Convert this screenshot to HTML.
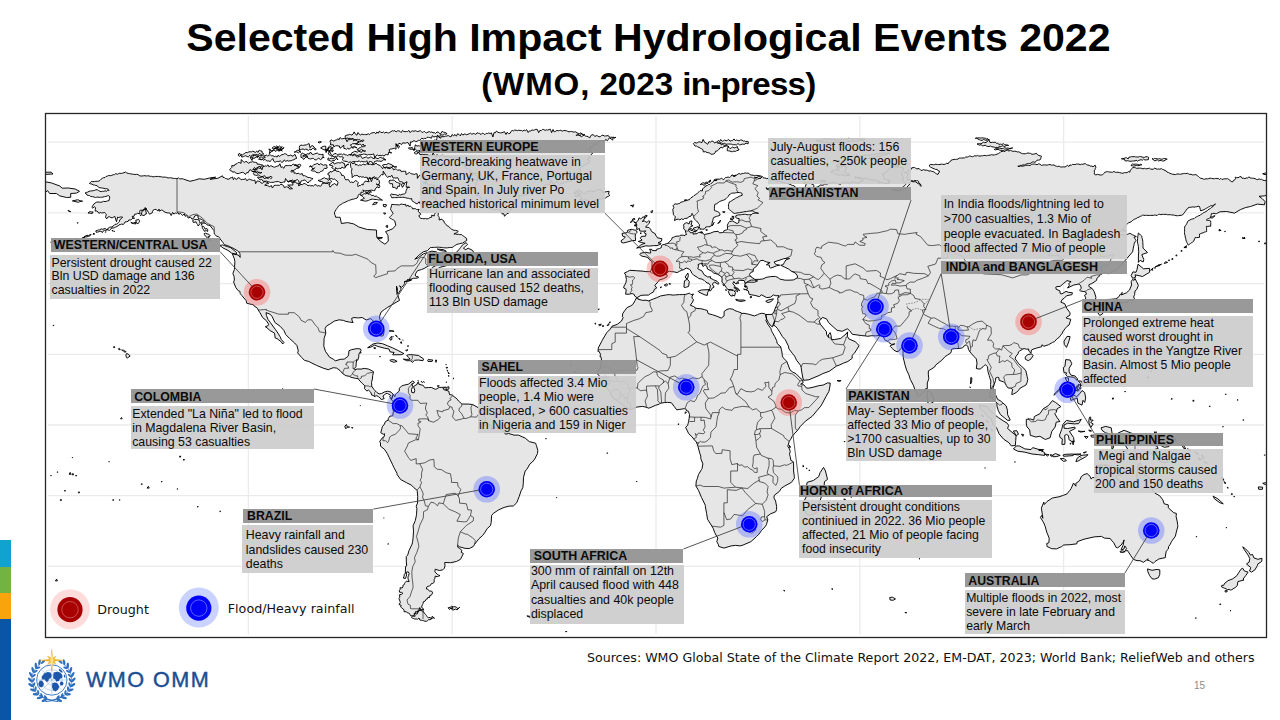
<!DOCTYPE html>
<html lang="en"><head><meta charset="utf-8"><title>Selected High Impact Hydrological Events 2022</title>
<style>
html,body{margin:0;padding:0}
body{width:1280px;height:720px;position:relative;overflow:hidden;background:#fff;font-family:"Liberation Sans",sans-serif}
.t1,.t2{position:absolute;left:0;width:1280px;text-align:center;font-weight:bold;color:#000;white-space:nowrap;transform-origin:50% 50%}
.t1{top:13.5px;font-size:39.4px;line-height:46px;transform:translateX(8.4px) scaleX(1.0425)}
.t2{top:65px;font-size:31.6px;line-height:38px;transform:translateX(8.4px) scaleX(1.048)}
.hd,.bd{position:absolute;box-sizing:border-box;white-space:nowrap;overflow:hidden;color:#0a0a0a}
.hd{background:rgba(148,148,148,.95);font-weight:bold}
.bd{background:rgba(204,204,204,.92)}
.lg{position:absolute;font-family:"DejaVu Sans","Liberation Sans",sans-serif;font-size:12.7px;line-height:14px;color:#111;white-space:nowrap}
.bar{position:absolute;left:0;width:11px}
</style></head><body>
<div class="t1">Selected High Impact Hydrological Events 2022</div>
<div class="t2"><span style="letter-spacing:.8px">(WMO,</span> 2023 <span style="letter-spacing:-.7px">in-press)</span></div>
<svg width="1280" height="720" viewBox="0 0 1280 720" style="position:absolute;left:0;top:0">
<defs><clipPath id="mc"><rect x="45.5" y="113.5" width="1221" height="524"/></clipPath></defs>
<g clip-path="url(#mc)">
<path d="M248.4 116V634.5M452.2 116V634.5M656.0 116V634.5M859.8 116V634.5M1063.6 116V634.5M48 142.2H1264M48 212.9H1264M48 283.6H1264M48 354.3H1264M48 425.0H1264M48 495.7H1264M48 566.4H1264" stroke="#ebebeb" stroke-width="1.3" fill="none"/>
<path d="M85.0 193.1L86.3 192.5L87.7 192.1L89.0 191.4L90.4 191.0L91.8 190.9L93.2 190.7L94.5 190.4L95.8 189.8L97.2 189.7L98.6 190.5L99.9 191.3L101.2 191.6L102.5 191.3L103.8 191.3L105.1 190.8L106.4 191.3L107.6 190.4L109.1 190.3L108.0 189.2L106.8 188.7L105.3 188.8L104.0 188.3L102.6 188.1L101.3 187.9L99.9 187.8L98.3 187.1L97.2 185.7L95.8 185.5L94.6 185.0L93.1 185.0L92.0 184.0L90.6 183.9L89.4 183.4L90.5 182.5L91.4 181.4L92.9 181.7L94.4 181.5L95.9 181.3L97.4 181.3L98.9 181.1L100.1 180.3L101.1 179.2L102.3 178.3L103.6 177.7L105.0 177.6L106.0 176.5L107.4 176.1L108.8 175.5L110.4 175.7L111.8 175.4L113.2 174.7L114.5 174.6L115.8 173.6L117.3 174.3L118.6 173.6L119.9 173.2L121.3 173.5L122.7 173.0L124.0 172.8L125.5 172.0L126.8 173.0L128.1 173.3L129.5 173.7L130.9 173.8L132.3 174.2L133.7 174.3L135.1 174.5L136.6 174.3L138.0 174.5L139.2 175.5L140.7 176.0L142.1 176.0L143.6 175.8L145.0 175.7L146.5 176.0L147.7 175.8L149.0 175.9L150.3 176.4L151.5 176.3L152.9 176.8L154.4 176.7L155.8 176.4L157.2 176.5L158.6 176.4L160.0 176.8L161.4 176.7L162.7 177.2L164.1 177.1L165.5 177.2L166.8 177.4L168.0 178.0L169.4 177.8L170.7 177.7L171.9 178.1L173.2 178.3L174.5 178.5L175.8 178.4L177.0 178.8L178.4 177.8L179.6 178.8L180.9 178.9L182.2 178.7L183.5 179.1L189.9 181.3L194.7 180.2L199.1 178.8L204.2 179.3L211.0 177.7L215.7 177.2L210.0 179.3L217.8 178.3L222.5 175.8L223.0 177.4L224.5 177.6L225.4 178.5L226.8 178.7L228.0 179.3L229.3 179.0L230.2 177.9L231.6 177.6L232.7 177.0L232.9 178.4L233.4 179.7L234.4 177.8L236.1 179.4L237.3 179.0L238.3 177.5L239.9 178.3L241.1 179.8L242.6 179.4L244.0 179.4L245.6 178.6L246.7 180.6L248.4 179.7L249.8 179.1L250.9 179.9L252.2 180.2L253.4 180.5L254.8 180.0L255.6 183.6L257.3 180.9L258.6 181.3L259.9 181.4L261.2 183.1L262.5 183.2L264.0 181.8L265.3 181.6L266.5 182.2L267.8 182.5L268.7 183.6L267.2 183.7L265.9 184.2L264.7 185.2L266.0 185.4L267.3 185.7L268.6 186.1L269.8 186.9L271.2 185.4L272.4 188.0L273.8 185.7L275.2 185.2L276.7 185.4L278.1 185.2L279.5 185.4L280.8 184.2L282.3 184.8L283.6 185.6L284.3 187.7L286.4 186.7L287.6 187.2L289.0 187.6L289.5 189.0L292.5 188.7L287.7 185.1L291.2 185.0L292.9 185.1L292.8 182.8L293.7 182.0L295.2 181.8L293.9 182.3L292.6 181.9L291.4 180.9L290.1 181.0L288.7 181.6L287.4 181.4L288.9 181.7L290.4 180.5L291.9 182.8L293.4 181.5L294.9 181.3L295.8 182.6L297.0 183.3L298.5 183.3L298.7 185.9L301.0 184.4L302.4 184.7L304.0 183.4L305.4 183.9L306.7 184.6L308.0 185.8L309.5 185.3L310.8 186.0L312.1 185.5L313.5 186.0L314.8 184.8L316.1 184.6L317.4 186.2L318.8 185.4L320.1 186.4L321.4 185.5L321.9 184.2L322.6 183.0L324.1 182.7L325.5 183.4L327.0 183.2L328.3 184.0L329.9 183.7L329.4 185.4L329.9 187.1L331.3 186.1L332.3 184.6L333.5 184.2L334.6 183.6L337.1 185.5L338.0 182.5L337.2 181.1L335.8 180.1L334.6 179.0L333.2 179.4L331.8 178.6L330.3 178.5L328.9 179.0L329.3 177.2L329.5 175.4L327.9 174.7L328.2 173.0L329.5 172.9L330.2 171.4L331.9 172.1L332.8 171.1L334.0 170.5L335.5 170.0L336.4 171.3L337.8 171.3L339.1 171.5L340.1 172.6L341.2 173.5L341.6 175.4L343.5 175.4L344.5 176.9L344.8 178.6L345.8 179.9L347.2 179.6L348.6 179.7L349.3 181.2L350.3 182.5L351.6 182.0L353.1 182.6L354.3 181.9L355.5 180.5L357.1 181.4L358.3 182.6L357.7 184.1L357.7 185.4L358.1 186.7L359.1 185.5L360.5 185.5L361.6 184.4L363.2 185.0L363.3 183.4L364.4 182.3L365.2 181.1L369.2 181.8L367.3 178.3L368.6 179.5L370.1 177.8L371.4 181.7L372.9 177.7L374.4 176.6L375.7 178.4L376.6 179.6L378.2 179.4L379.1 180.4L379.5 182.9L378.4 185.3L376.1 183.9L377.4 184.7L379.1 184.7L379.8 186.4L379.2 187.8L377.0 186.8L376.3 188.0L375.2 188.8L374.9 190.6L373.4 190.6L371.8 190.2L370.3 190.3L368.8 190.5L367.3 190.6L365.7 190.7L364.2 190.9L362.8 189.9L363.9 191.7L362.7 192.3L361.0 192.1L360.8 194.4L359.1 194.2L358.2 195.3L358.0 196.9L357.1 198.1L355.8 198.4L354.6 198.8L353.4 199.2L352.0 199.3L350.8 199.9L349.6 200.2L348.4 200.7L347.2 201.2L346.0 201.8L344.9 202.4L343.6 202.8L342.5 203.4L341.2 204.4L339.7 205.2L338.4 206.2L337.7 207.4L336.8 208.6L336.0 209.7L335.1 211.3L334.3 212.9L334.8 214.4L335.3 215.8L335.7 217.3L337.1 217.2L338.6 217.3L340.1 217.3L341.4 223.5L347.6 222.6L353.7 223.9L358.8 227.0L367.3 229.5L376.4 230.0L376.8 237.6L380.8 241.5L384.9 244.2L388.3 241.2L388.0 235.5L385.6 231.6L392.7 228.8L395.8 225.3L394.8 221.0L393.8 220.2L392.6 219.6L391.5 218.9L390.3 218.3L389.3 217.5L390.3 216.5L391.3 215.4L392.3 214.5L393.1 213.3L392.3 212.1L391.5 210.9L390.7 209.7L390.7 208.4L391.2 207.1L391.4 205.7L391.7 204.4L393.0 204.5L394.3 204.6L395.6 204.6L396.9 204.8L398.2 204.8L399.5 204.9L401.0 204.0L402.6 204.3L404.1 204.6L405.6 204.2L406.1 206.3L408.1 205.1L408.8 206.5L410.3 206.2L411.4 206.9L412.3 207.8L412.8 209.0L414.1 208.6L415.4 208.7L416.6 209.5L417.9 209.4L419.2 209.4L418.1 211.4L419.9 212.9L420.8 214.4L418.8 215.7L419.6 217.1L420.7 218.5L422.5 218.4L424.0 218.9L425.4 218.4L427.0 219.0L428.4 218.6L430.0 217.5L431.8 217.1L431.6 215.2L434.3 215.9L434.4 214.3L435.2 213.3L436.6 211.7L437.6 212.6L438.4 213.7L438.0 215.3L438.6 216.4L439.3 217.7L439.1 220.0L441.9 219.1L442.7 220.3L444.0 221.1L444.3 222.8L445.5 223.7L446.4 224.9L447.3 226.0L448.7 226.3L449.4 227.5L450.5 228.3L451.5 229.2L452.8 229.8L454.1 230.4L455.6 230.3L457.0 230.8L458.3 231.3L457.3 232.1L456.4 233.1L454.9 233.3L453.9 234.1L455.4 233.9L456.9 234.4L458.4 234.2L459.8 234.7L461.4 234.5L462.4 235.4L463.5 236.1L464.6 236.9L465.8 237.6L466.6 239.0L466.8 240.5L465.4 241.3L464.0 242.2L462.7 243.1L461.2 243.3L459.8 243.7L458.4 244.0L456.9 244.4L455.7 245.1L454.5 245.8L453.4 246.7L452.2 247.4L450.7 247.5L449.1 247.6L447.6 247.8L446.1 247.9L444.8 247.8L443.6 247.7L442.3 247.6L441.1 247.4L439.8 247.3L438.6 247.2L437.2 247.2L435.9 247.3L434.5 247.4L433.2 247.4L431.8 247.5L430.4 247.5L427.4 250.7L423.3 251.8L419.2 255.0L414.8 259.2L418.2 257.8L423.3 253.9L431.8 251.1L437.2 252.1L435.9 255.0L430.4 255.1L435.2 256.0L435.5 258.9L436.9 261.7L442.0 263.1L446.7 263.5L449.5 258.9L452.9 262.4L448.8 265.0L440.3 267.3L433.5 271.2L431.1 269.5L432.5 267.3L437.2 264.9L436.6 263.3L431.8 265.2L428.4 265.9L424.3 268.4L421.6 269.5L417.5 270.7L415.8 273.3L415.2 275.1L416.2 276.7L417.9 276.4L418.4 277.8L415.8 278.3L413.5 278.3L411.4 279.0L407.3 279.7L411.4 280.1L406.0 281.5L404.6 281.7L404.6 283.6L403.3 285.7L401.6 287.3L399.5 285.7L400.9 287.8L400.9 289.6L399.2 292.1L398.0 293.9L396.5 290.7L396.5 286.1L397.5 288.9L396.8 294.2L398.0 295.6L399.5 300.4L396.1 302.3L391.4 305.2L387.6 307.3L384.6 309.4L381.2 311.9L379.5 316.5L379.8 319.3L382.2 324.6L384.1 330.3L383.7 334.0L382.9 335.9L380.5 336.1L378.1 332.7L376.8 330.6L375.1 327.1L374.9 323.2L372.7 320.4L370.7 318.6L366.2 320.0L362.2 317.5L358.8 317.9L357.1 317.9L354.0 317.5L351.6 318.4L352.3 321.1L353.2 322.5L349.6 322.1L345.9 321.4L343.5 320.4L339.1 319.8L334.3 321.1L330.2 323.9L326.5 326.0L325.1 328.5L325.8 333.1L324.1 338.4L323.8 346.2L325.5 351.5L329.5 357.1L333.3 359.2L335.3 360.8L341.1 359.2L344.2 359.2L347.9 356.4L348.6 354.8L348.9 350.8L351.3 349.7L357.1 348.6L360.5 349.0L361.1 350.4L358.8 354.3L358.8 356.8L357.7 360.3L356.7 359.6L356.2 363.1L356.0 366.7L354.0 368.8L355.0 369.5L357.4 369.0L361.1 369.1L364.2 368.4L368.3 369.0L372.7 371.1L373.5 372.0L372.7 375.5L372.4 379.0L371.5 382.6L371.8 386.3L374.0 389.6L375.6 391.2L376.8 392.5L379.1 393.9L381.5 393.5L384.6 391.9L387.6 391.2L391.0 392.1L393.2 394.4L391.4 399.5L389.7 396.7L390.7 395.3L387.6 393.5L385.9 393.4L384.2 395.3L382.9 396.0L384.2 398.7L381.2 399.5L380.2 398.1L378.5 396.7L376.8 395.7L374.4 396.5L373.0 395.3L371.7 395.1L370.7 392.1L368.3 390.0L366.9 391.1L364.5 388.6L364.9 385.9L362.2 383.3L358.8 379.8L358.4 378.7L355.4 378.3L350.9 377.3L349.9 376.4L345.9 375.7L342.8 373.7L340.1 370.6L336.7 368.1L333.3 367.7L328.2 369.7L323.1 368.1L316.6 365.4L310.9 362.6L308.8 361.5L304.4 360.3L301.7 357.5L297.6 352.9L298.3 350.8L296.9 345.5L294.6 343.0L289.5 338.4L285.7 334.5L284.0 330.6L280.3 326.4L274.9 322.5L272.1 316.5L270.4 314.4L266.0 312.6L266.4 315.4L268.1 319.7L270.4 322.5L272.8 326.0L275.5 329.6L277.9 333.1L280.0 336.6L281.3 339.5L284.0 342.6L282.7 344.0L281.3 341.9L277.2 338.7L275.2 338.0L274.5 333.1L270.1 330.6L267.0 327.8L265.3 326.7L268.1 325.7L268.7 324.3L266.4 320.7L262.6 317.5L259.9 312.6L258.2 310.1L257.5 308.3L253.8 305.7L253.5 304.8L251.1 304.3L246.7 303.2L246.2 300.7L241.9 295.6L240.2 293.5L239.9 291.4L238.2 290.7L235.8 287.5L233.6 282.0L234.4 280.1L234.1 276.5L232.9 273.5L234.4 269.5L234.9 261.7L234.4 258.9L232.4 253.9L238.2 255.0L240.2 257.4L239.9 253.6L238.8 251.8L237.5 250.7L233.1 248.2L231.9 247.7L230.8 247.1L229.7 246.5L228.4 246.0L227.2 245.5L225.9 245.1L224.6 244.7L223.6 243.6L222.9 242.3L221.9 241.2L221.1 240.0L220.0 239.0L219.5 237.6L218.3 236.6L216.6 236.3L215.6 235.0L214.4 234.1L214.2 232.3L214.1 230.6L213.0 229.4L212.1 228.1L211.0 227.0L210.2 225.5L208.4 225.3L206.9 224.8L205.9 223.5L204.0 223.1L203.9 220.9L202.5 220.0L201.1 219.2L199.4 218.9L198.0 218.1L198.2 215.9L196.4 215.4L194.6 216.0L194.0 217.8L192.0 219.3L191.3 217.9L190.2 217.2L188.3 218.1L187.6 216.8L186.5 215.8L185.0 216.2L184.4 213.9L182.5 215.4L181.4 214.5L180.4 213.3L178.9 214.3L178.0 212.6L176.5 213.3L175.3 212.9L174.0 214.2L172.6 212.3L171.2 215.5L169.9 213.1L168.5 212.9L167.2 212.9L165.1 212.2L164.0 211.5L162.9 210.6L161.6 210.0L159.4 211.2L159.0 209.0L157.9 211.1L156.1 209.3L154.6 209.5L153.2 210.1L152.6 211.4L152.2 212.9L150.9 213.4L149.6 214.3L148.5 212.5L145.2 207.5L146.4 214.0L145.1 214.2L144.3 215.6L142.9 215.3L141.4 214.9L140.3 215.7L141.4 214.1L141.8 212.5L142.0 210.8L143.8 210.6L144.6 208.6L146.5 208.7L144.8 209.4L143.1 209.4L142.2 210.4L140.5 210.0L139.7 211.1L140.0 213.9L137.6 213.3L136.3 214.0L134.6 214.3L134.0 216.3L132.2 216.4L132.9 218.0L134.6 218.2L133.0 218.1L131.8 219.3L130.6 219.9L128.9 219.9L128.1 221.4L126.6 221.7L125.1 221.9L124.4 223.5L123.2 224.4L121.6 224.1L120.3 224.6L119.0 224.9L117.9 226.0L116.8 226.6L115.5 227.1L114.4 227.7L113.2 228.1L111.7 228.0L110.8 229.2L109.5 230.5L107.7 229.7L106.2 230.2L104.7 230.4L103.4 230.8L102.5 232.5L100.9 231.3L99.3 231.5L97.8 232.1L96.2 232.3L95.8 230.9L97.2 230.4L98.5 229.9L99.9 229.9L101.1 228.8L102.7 229.3L104.0 228.8L105.4 228.5L107.2 230.0L108.2 228.1L109.4 227.4L110.8 227.0L112.2 227.1L113.1 225.9L114.2 225.3L115.1 224.3L116.5 224.2L117.6 223.5L118.5 222.4L119.5 221.4L119.7 219.8L121.0 218.9L122.7 217.1L121.4 217.0L120.1 217.0L118.8 217.6L117.6 217.1L116.5 221.8L114.8 216.4L113.5 217.1L112.2 217.8L110.8 217.5L109.5 216.8L108.2 216.8L107.0 218.7L105.7 217.8L105.7 216.2L106.4 214.7L105.5 213.6L104.7 212.5L103.2 212.8L101.8 213.0L100.3 212.5L98.9 213.3L98.0 212.0L96.9 211.0L95.2 211.1L95.3 209.4L95.5 207.6L94.3 206.7L92.9 208.2L91.8 207.2L92.6 206.3L93.1 205.1L93.8 204.1L95.0 203.2L96.2 202.3L97.7 202.0L99.2 202.1L100.8 202.3L102.3 201.9L103.6 201.3L105.0 201.6L106.4 201.3L107.7 200.9L109.1 200.5L109.4 198.8L109.8 197.0L108.7 195.6L107.3 195.9L105.9 196.4L104.4 196.7L103.0 197.0L101.7 197.3L100.4 197.2L99.2 197.4L97.9 197.1L96.7 197.2L95.4 197.5L94.1 197.0L92.5 196.6L90.7 196.5L89.7 195.6L88.2 195.4L86.9 195.0L86.2 193.6L85.0 193.1ZM506.9 213.6L504.5 216.3L503.8 213.7L502.2 214.0L501.4 211.8L499.6 210.4L498.3 210.0L497.0 209.3L495.6 209.8L494.3 209.6L492.9 209.7L491.6 209.2L490.3 208.7L488.6 208.6L487.3 208.1L487.2 205.8L485.7 205.1L485.9 203.1L484.5 202.3L482.8 201.8L482.6 200.0L481.3 199.2L480.4 198.1L480.0 196.4L479.1 195.2L476.4 195.7L476.3 193.8L475.2 192.7L474.7 191.2L473.3 190.2L473.6 188.3L475.3 187.7L475.5 186.1L476.0 184.6L476.3 182.1L477.4 181.5L477.3 176.6L479.7 180.3L481.2 180.7L482.4 180.4L483.4 178.3L482.0 178.9L480.6 179.3L479.2 179.9L477.7 180.0L476.2 179.8L474.8 179.5L473.5 178.7L472.0 178.5L470.5 178.6L470.2 176.8L470.5 175.1L471.8 176.0L473.2 173.4L474.5 174.2L475.8 175.4L477.1 175.5L478.4 176.3L479.7 173.4L481.1 175.1L479.8 174.8L478.7 174.1L477.7 173.3L476.2 173.1L474.8 173.2L473.3 173.4L472.1 172.0L470.7 171.8L469.2 172.2L470.7 171.3L469.8 169.8L468.8 169.0L467.6 168.6L466.1 168.7L465.3 167.7L464.7 165.9L464.1 164.1L462.1 164.5L462.3 161.8L460.7 161.6L460.2 159.9L458.1 159.6L457.3 158.1L456.1 156.8L454.4 157.5L452.8 158.4L451.7 156.6L450.0 157.7L448.8 156.3L447.5 156.3L446.2 156.6L444.8 157.1L443.6 156.3L442.3 155.1L441.0 155.7L439.6 156.7L438.3 156.1L437.1 154.5L435.7 157.7L434.4 155.4L433.2 152.9L431.8 156.0L430.6 155.3L429.2 155.7L427.9 154.9L426.6 154.6L425.3 154.6L423.9 154.7L422.6 154.4L421.1 154.5L419.7 154.4L418.7 152.0L416.8 154.0L415.4 153.8L414.1 152.8L415.2 151.9L416.4 151.4L418.1 152.7L419.1 151.5L420.5 151.7L421.6 151.0L420.4 150.4L418.9 150.7L417.5 151.1L416.4 149.9L415.2 149.0L413.7 150.0L412.4 149.4L411.1 149.1L409.7 149.3L408.4 147.9L409.6 147.7L411.0 148.1L412.1 147.2L414.1 150.6L414.7 147.3L415.4 144.8L417.0 146.2L418.2 145.7L419.6 146.0L420.8 145.2L422.2 145.8L423.4 144.9L424.8 145.4L426.2 145.8L427.3 144.4L428.7 145.0L429.8 143.2L431.3 144.3L432.6 144.0L434.0 144.5L435.2 143.6L434.3 142.6L432.6 143.0L431.8 141.8L433.2 141.2L434.3 140.1L436.5 140.4L436.9 138.3L437.4 135.3L439.2 137.3L440.7 138.2L441.6 136.4L443.0 136.8L444.2 136.5L445.4 136.2L446.8 136.1L448.1 135.5L449.5 136.3L451.0 136.9L452.1 134.5L453.7 136.0L454.8 134.4L456.4 136.2L457.5 133.8L459.0 134.4L460.3 135.9L461.5 133.5L462.9 135.2L464.1 134.0L465.4 134.2L466.8 134.8L468.0 134.2L469.3 133.7L470.6 133.2L471.9 134.3L473.2 133.5L474.5 133.7L475.8 134.4L477.1 132.7L478.4 133.3L479.7 133.4L481.0 134.6L482.3 133.1L483.6 133.6L484.9 134.7L486.1 133.4L487.5 133.5L488.7 132.9L490.1 133.6L491.4 132.9L492.9 137.0L494.0 132.6L495.3 132.8L496.5 131.0L497.9 132.3L499.2 132.6L500.6 132.9L501.9 132.8L503.1 132.3L504.4 131.6L506.0 134.5L507.1 132.3L508.6 133.6L509.9 133.5L511.0 131.4L512.2 130.4L513.6 130.9L514.8 130.0L516.1 130.3L517.5 130.6L518.8 130.2L520.1 130.5L521.4 130.4L522.8 131.2L524.1 130.0L525.4 130.7L526.7 129.7L528.2 132.5L529.4 130.8L530.7 131.0L532.0 129.9L533.3 130.3L534.6 129.9L535.9 129.3L537.3 129.5L538.7 132.7L539.9 130.4L541.3 130.6L542.5 129.4L543.8 129.6L545.1 130.4L546.5 129.8L547.8 130.2L549.1 129.4L550.4 129.3L551.6 132.7L553.0 129.5L554.2 131.9L555.6 131.3L556.9 130.4L558.2 130.8L559.6 130.5L560.9 130.2L562.1 131.2L563.6 130.6L565.0 130.5L566.3 130.8L567.6 131.3L569.0 131.9L570.4 131.5L571.8 131.4L573.1 132.1L574.5 131.9L575.8 131.9L577.0 132.8L578.2 133.4L579.5 133.6L581.0 132.8L582.1 134.0L583.2 134.8L584.7 134.4L583.3 135.2L581.7 133.5L580.5 135.4L579.0 135.3L577.4 134.1L576.2 135.5L577.5 135.3L578.9 134.7L580.1 135.9L581.4 136.7L582.8 135.8L584.2 135.1L585.4 136.0L586.7 136.3L588.1 136.5L589.5 138.1L590.7 135.7L592.0 134.8L593.4 134.7L594.9 136.6L596.2 135.6L597.6 135.9L599.0 136.9L600.4 136.6L601.6 135.5L603.0 135.1L604.2 136.0L605.5 135.9L606.9 135.9L608.2 135.4L609.3 137.1L610.6 137.3L612.0 137.2L613.2 137.6L614.5 138.0L615.9 137.3L614.7 137.6L613.2 137.1L612.7 140.1L611.0 138.8L609.3 137.8L608.4 139.4L607.4 140.7L605.7 139.4L604.8 140.9L603.5 141.2L602.0 140.8L600.7 140.9L599.5 141.6L598.3 141.8L597.4 142.8L597.1 144.6L595.1 144.1L593.9 144.6L593.2 145.7L592.3 147.2L590.0 147.3L589.8 149.3L590.1 150.5L591.1 151.4L591.4 152.7L592.5 153.5L591.4 154.3L590.7 155.4L590.1 156.5L590.1 158.3L588.1 158.1L587.6 159.8L589.2 160.4L589.8 161.6L589.0 163.3L587.0 163.1L586.1 164.6L584.7 165.2L583.3 165.9L581.5 166.1L580.8 167.7L579.6 168.7L580.4 170.0L580.5 171.5L579.9 173.1L580.4 174.5L581.3 175.8L579.8 176.2L578.7 175.4L577.7 174.2L576.7 173.4L575.5 172.9L574.1 173.0L572.8 173.0L571.8 174.1L569.7 171.5L569.2 174.2L568.1 174.9L566.3 173.3L565.4 174.8L564.3 175.4L565.8 174.6L566.9 176.6L568.4 175.7L569.6 176.9L571.1 176.5L572.4 176.9L573.9 173.6L574.9 177.5L576.3 176.8L577.6 177.3L579.0 176.6L580.2 177.2L578.4 175.9L577.9 178.3L576.6 178.4L575.3 178.6L574.4 179.8L572.9 179.4L571.7 180.0L570.9 181.6L569.4 181.1L568.0 181.0L566.9 181.6L565.8 182.3L564.4 182.1L563.5 183.4L562.1 183.3L560.9 183.6L559.6 184.4L558.1 183.3L556.6 180.7L555.4 183.1L554.1 184.1L552.7 184.0L551.2 179.8L550.0 184.3L548.7 184.7L547.3 184.3L546.3 185.0L544.9 185.2L543.8 185.8L543.5 187.7L542.0 187.6L541.2 188.7L540.3 189.7L538.8 189.6L537.6 190.4L536.5 191.4L534.9 191.1L532.9 189.3L532.2 191.8L531.9 195.1L529.2 191.6L528.3 193.1L527.2 194.7L525.8 194.7L524.6 195.7L522.8 194.5L521.8 196.0L520.1 195.2L518.3 195.8L519.5 197.8L518.4 198.8L517.9 200.5L514.8 199.8L515.0 202.3L514.9 203.9L513.6 204.6L512.6 205.6L511.6 206.5L511.0 208.0L510.9 209.8L509.9 211.1L509.3 212.4L508.3 213.3ZM393.2 394.4L394.8 396.7L395.3 394.6L396.8 393.2L399.2 391.1L399.4 388.2L401.7 385.9L403.9 385.2L408.4 384.2L412.6 381.0L414.5 382.2L413.6 383.3L411.6 384.0L412.8 386.3L411.4 389.6L411.8 392.5L414.1 392.8L414.8 390.4L413.5 386.5L417.2 384.3L417.5 382.6L418.5 381.9L418.9 384.3L423.3 385.4L424.0 386.6L425.0 387.9L428.6 387.5L431.6 387.5L435.2 389.3L436.2 389.1L437.9 388.1L439.3 387.4L441.1 387.4L445.7 387.2L443.0 388.6L443.7 389.6L448.8 391.1L449.5 394.6L452.2 395.0L452.9 395.7L457.3 399.2L458.5 401.0L461.7 403.8L462.4 404.0L468.5 404.1L472.6 404.5L478.3 407.7L480.5 410.2L481.4 409.8L482.8 412.6L485.1 417.9L486.3 419.0L484.8 421.8L483.1 425.0L485.1 425.4L486.1 423.6L488.5 424.3L491.6 426.1L491.2 429.6L493.3 427.5L495.0 427.1L499.7 428.9L503.1 430.3L505.5 434.2L508.6 433.5L514.0 435.1L518.4 435.1L525.2 438.1L529.3 441.6L535.6 443.2L536.4 445.5L537.8 450.3L537.5 453.5L534.7 459.1L532.3 462.1L530.1 463.7L526.9 469.2L525.2 471.0L523.5 477.3L523.3 483.2L522.8 487.7L521.1 490.8L519.1 496.8L516.7 502.8L513.3 506.0L509.2 506.1L504.2 507.4L498.7 509.8L493.3 513.4L491.6 515.5L491.2 522.6L490.4 525.7L487.2 528.6L485.1 532.1L482.8 535.3L479.0 538.7L474.6 544.3L473.2 546.6L469.3 548.5L465.1 548.4L459.5 546.8L457.6 545.2L457.8 547.3L459.3 548.2L461.9 550.3L461.2 552.3L463.4 553.5L460.5 559.3L456.4 561.5L450.5 562.7L444.7 562.5L445.0 565.7L444.4 568.2L442.7 569.9L441.0 570.2L439.3 570.5L435.2 569.2L434.9 571.7L436.0 573.0L437.2 574.2L438.5 575.0L440.0 575.6L438.6 576.2L437.2 576.7L435.2 576.1L435.0 578.1L434.2 579.4L434.2 580.8L434.2 582.3L432.8 583.4L431.3 583.7L430.5 585.1L429.5 586.1L427.9 586.3L426.7 587.1L426.4 589.0L427.8 589.2L428.6 590.4L429.8 591.1L431.4 591.0L432.5 592.2L432.1 594.3L431.1 595.2L429.8 595.6L429.6 597.5L427.9 597.4L427.4 598.9L426.0 599.3L425.2 601.1L423.3 601.8L423.2 603.3L422.5 604.6L421.9 605.9L421.6 607.4L423.1 608.4L423.8 610.1L422.4 609.5L421.2 610.2L419.9 610.6L418.3 610.2L417.2 612.1L415.5 611.6L415.2 613.4L414.2 614.3L413.8 615.5L412.1 615.9L410.7 615.8L409.7 614.1L408.8 613.0L407.2 612.8L406.3 611.6L404.2 611.9L404.0 609.8L402.9 608.8L401.8 607.9L400.6 607.0L401.2 605.3L399.0 604.5L400.3 602.6L400.0 601.3L399.5 600.0L398.9 598.7L399.7 597.3L399.7 596.0L399.5 594.7L401.4 594.4L402.9 593.3L401.6 592.4L399.7 592.3L399.2 590.4L400.2 589.6L400.1 587.7L402.1 588.0L402.9 586.9L402.9 585.4L404.2 584.7L404.6 583.4L405.3 582.3L406.3 581.2L409.2 581.6L408.0 578.8L408.0 576.9L408.7 575.2L409.1 573.4L408.2 571.7L406.8 572.2L405.3 572.6L405.6 566.4L406.7 565.9L406.3 561.1L406.3 556.5L407.7 555.1L409.0 550.5L412.1 544.1L412.6 541.7L413.1 537.8L413.5 530.9L413.1 525.7L415.3 520.6L416.5 514.8L416.9 508.6L416.2 506.3L417.5 503.1L417.7 496.4L417.2 490.4L413.6 487.4L411.4 485.1L406.3 482.6L400.5 479.4L396.8 474.1L397.1 473.4L393.9 467.6L392.4 464.2L389.0 457.2L387.3 453.6L384.4 449.2L380.5 446.2L380.5 443.0L379.7 441.5L382.7 437.4L384.2 436.7L384.6 433.8L383.2 434.2L380.8 432.8L381.9 428.4L382.5 426.2L384.1 424.8L385.4 421.6L388.1 420.1L388.3 418.6L389.7 416.2L392.7 415.8L393.4 411.2L392.6 405.6L393.2 401.7L391.4 399.5ZM423.0 611.1L421.4 610.8L419.7 607.5L418.4 612.2L416.9 611.5L417.5 612.7L417.2 614.1L414.2 613.3L415.2 616.2L413.8 616.2L412.5 616.4L411.4 617.3L412.4 618.2L413.7 618.5L414.8 619.1L416.2 618.9L417.4 619.3L419.0 618.0L419.9 620.1L421.2 620.2L422.5 620.5L423.8 620.8L425.0 621.2L426.4 621.3L427.6 620.6L428.7 619.6L430.1 619.8L431.4 618.8L432.2 616.3L434.5 618.2L433.1 617.8L431.3 619.0L430.1 617.3L428.3 617.9L427.3 616.8L426.4 615.5L425.4 614.3L424.3 613.1ZM406.3 572.8L405.0 573.3L404.3 574.5L404.0 576.4L403.3 578.1L405.6 578.4L406.1 576.6L406.7 574.9ZM448.1 607.8L450.0 607.4L451.5 606.3L453.2 606.8L454.9 606.7L456.5 607.2L457.9 608.9L459.7 607.1L458.3 608.8L457.0 609.8L455.3 609.1L453.9 609.9L452.4 610.0L451.1 607.8L449.5 609.5ZM445.7 389.5L446.7 387.2L449.0 386.8L448.8 389.1ZM765.7 314.5L766.6 319.1L765.9 320.4L767.8 324.3L771.0 328.7L771.3 330.4L772.5 332.7L774.6 336.4L776.6 340.5L777.3 343.7L780.5 346.5L781.7 350.8L782.4 355.7L782.9 357.5L786.8 361.4L790.0 369.9L792.6 372.0L796.0 373.7L801.2 379.0L802.6 380.1L803.1 382.8L800.7 384.2L802.6 384.0L803.8 384.9L806.5 388.1L808.9 388.1L814.0 387.0L819.1 385.6L823.1 385.1L827.5 382.9L830.3 383.1L829.6 388.1L828.9 391.4L825.9 396.7L822.5 403.1L820.8 406.1L816.7 410.9L812.3 416.2L810.1 417.8L805.5 421.1L800.5 426.2L797.3 430.8L794.9 433.1L792.2 436.3L790.7 439.3L789.2 441.4L788.8 442.9L787.8 446.2L789.5 449.0L790.2 451.5L789.5 454.3L790.2 456.6L790.9 460.4L792.6 461.2L793.4 462.1L793.6 463.9L793.6 471.0L794.3 476.3L794.4 478.2L791.5 482.3L785.1 485.8L781.3 488.3L779.3 491.5L774.4 495.2L773.9 497.8L775.6 501.0L775.9 502.8L776.6 506.3L776.6 509.3L775.9 511.6L770.5 513.9L766.7 516.7L767.8 519.9L766.4 524.7L765.0 526.8L761.5 530.5L758.9 534.2L756.4 536.7L750.8 541.7L743.1 545.0L740.2 545.9L735.5 545.4L731.2 545.9L723.9 548.1L718.7 546.4L718.5 544.8L716.8 541.7L717.8 538.1L714.8 532.8L713.2 528.4L711.9 526.1L707.5 519.2L706.6 513.4L705.3 506.1L705.3 505.2L701.5 497.5L698.5 490.4L695.9 486.0L696.3 480.9L697.3 478.7L698.5 474.5L701.5 469.5L702.0 468.7L702.9 463.9L700.8 458.6L700.8 456.1L699.8 453.3L698.0 446.6L697.4 444.6L696.3 442.0L693.7 439.0L692.2 437.0L688.6 433.5L685.6 427.3L687.6 425.4L688.1 423.6L688.6 421.5L689.1 418.5L689.6 414.6L688.3 411.2L686.6 410.9L685.9 408.9L684.2 408.7L679.8 409.4L676.7 409.8L674.3 406.6L671.3 402.7L667.5 402.4L664.2 402.6L660.1 403.3L659.4 404.1L655.3 405.4L651.8 407.0L650.1 407.7L648.9 408.2L645.5 407.0L642.4 406.4L637.3 407.0L635.3 407.5L630.5 409.6L625.4 407.3L621.9 404.1L619.3 402.7L616.9 400.4L613.5 398.5L611.0 395.0L610.8 393.0L609.5 391.4L606.7 387.9L605.0 386.1L603.3 385.1L603.0 383.1L599.9 381.5L599.1 381.0L599.6 377.5L598.9 375.5L596.6 373.0L598.6 370.2L599.9 368.3L601.6 361.0L601.0 356.8L599.9 356.4L600.6 354.3L598.6 350.8L598.1 351.5L598.3 347.9L601.8 341.2L602.3 340.2L606.7 332.7L610.3 329.0L612.0 326.2L617.4 324.3L621.4 321.1L623.2 317.5L622.4 316.7L622.7 313.6L624.6 310.8L627.1 307.5L630.2 306.2L632.7 304.6L635.1 300.6L636.0 298.4L638.0 298.1L638.0 299.2L642.8 300.4L646.0 300.2L648.5 300.9L653.8 298.8L656.3 297.9L660.4 296.0L666.4 294.9L669.2 294.6L673.3 295.1L675.5 294.9L679.4 294.6L682.3 294.6L685.2 294.4L685.7 294.4L689.5 293.1L691.0 294.7L693.5 294.0L692.0 296.3L692.2 298.4L693.5 299.5L692.5 302.2L690.3 305.2L693.7 306.6L695.2 307.8L697.1 308.5L700.8 308.7L704.4 309.6L707.3 310.5L708.1 313.6L712.4 314.7L717.1 316.3L721.2 318.1L724.1 315.9L724.1 311.5L727.0 309.4L729.7 308.7L732.9 309.2L734.8 310.5L737.5 311.5L741.3 312.8L741.4 313.5L744.0 313.3L748.6 314.2L754.3 315.9L757.6 314.7L759.3 313.8L761.6 313.3L764.2 313.6ZM823.5 467.4L825.5 471.0L827.5 479.4L824.5 481.6L823.8 488.6L821.8 495.7L818.7 504.5L816.0 513.0L809.5 515.5L805.5 513.4L804.1 508.1L803.1 502.8L806.8 495.7L805.5 490.4L807.2 482.3L813.3 480.5L818.7 476.6L820.1 472.7ZM837.1 380.6L841.1 380.6L839.4 381.5ZM789.2 445.3L790.4 446.6L790.0 447.8ZM1140.1 462.8L1143.5 470.2L1144.5 475.9L1146.9 475.2L1149.6 479.6L1151.3 484.7L1152.6 490.4L1154.7 493.0L1159.6 495.7L1162.8 499.8L1164.2 503.8L1168.3 504.9L1168.3 507.7L1170.0 509.3L1173.7 512.7L1176.4 513.4L1176.1 516.6L1177.3 521.9L1177.6 524.5L1177.9 526.2L1176.3 532.1L1175.4 536.2L1171.7 541.3L1170.0 544.7L1168.6 546.6L1168.3 549.1L1166.2 551.2L1165.4 556.1L1165.4 557.6L1158.8 559.0L1155.0 561.5L1153.3 563.3L1150.6 561.6L1149.2 560.7L1147.4 560.4L1148.2 558.8L1146.5 560.0L1143.5 562.3L1140.1 560.7L1137.0 560.6L1133.6 559.5L1130.9 555.8L1128.2 551.6L1127.8 550.7L1125.1 550.8L1126.5 548.4L1124.8 545.9L1123.9 549.1L1121.0 549.8L1123.1 545.2L1124.1 539.9L1123.4 541.8L1121.0 545.2L1117.7 547.8L1116.0 547.3L1113.6 542.4L1111.9 540.9L1110.2 538.5L1104.4 538.1L1101.5 536.4L1094.2 536.9L1084.0 539.2L1077.2 541.7L1076.9 543.8L1070.1 544.7L1063.6 545.0L1061.6 546.6L1056.5 548.9L1051.8 548.7L1047.1 546.5L1046.7 543.5L1048.9 542.7L1049.2 538.1L1046.7 532.1L1045.3 526.8L1043.8 522.9L1040.4 517.4L1041.6 515.5L1042.9 518.3L1042.1 513.0L1041.4 508.1L1043.8 502.1L1044.3 504.5L1047.0 501.5L1052.4 498.0L1058.9 496.8L1063.6 495.3L1067.0 493.9L1069.8 490.4L1071.1 488.6L1073.5 483.0L1075.9 486.2L1075.9 483.3L1078.6 481.6L1080.3 479.1L1081.3 476.6L1084.0 474.5L1087.1 473.6L1090.1 476.3L1091.2 479.1L1092.5 477.5L1096.3 477.7L1095.9 474.5L1098.3 471.0L1100.5 469.0L1102.7 468.1L1105.4 468.1L1106.4 466.0L1103.7 464.9L1107.5 465.1L1109.5 466.7L1113.6 467.4L1117.7 467.4L1120.7 468.1L1121.4 468.7L1120.0 471.7L1118.0 473.1L1117.7 475.2L1116.0 477.7L1118.0 479.8L1121.4 481.2L1124.8 483.7L1128.2 485.1L1130.2 487.2L1134.3 486.9L1136.3 481.6L1137.0 476.3L1137.0 472.7L1137.9 469.7L1137.4 467.4L1138.7 463.9ZM1147.5 568.9L1152.0 570.3L1157.1 569.4L1159.8 569.9L1159.8 574.2L1158.4 577.7L1154.7 579.1L1152.0 578.8L1149.6 575.6L1147.9 571.7ZM1242.7 546.8L1245.4 548.7L1248.8 552.3L1250.5 555.1L1252.5 554.4L1253.9 557.9L1257.9 559.3L1262.0 558.3L1261.7 561.5L1257.9 563.9L1257.3 565.7L1254.9 569.9L1251.5 572.1L1249.5 571.0L1250.8 567.5L1247.1 564.6L1246.4 563.9L1249.1 562.2L1249.8 558.6L1248.1 555.1L1244.4 549.8ZM1242.7 568.2L1244.4 571.0L1248.1 572.1L1245.7 575.6L1243.0 579.1L1244.0 580.0L1237.9 581.6L1237.2 585.8L1235.5 587.3L1231.8 589.7L1230.4 590.1L1229.1 589.4L1227.7 589.7L1226.2 588.9L1224.7 588.3L1223.1 587.6L1221.6 586.9L1221.8 585.3L1223.7 585.3L1224.3 584.1L1225.1 582.8L1226.5 582.1L1227.4 580.9L1232.8 578.8L1236.9 575.6L1238.9 572.4L1241.0 569.2ZM1225.3 590.4L1227.4 590.8L1226.7 592.0L1225.0 591.9ZM1120.0 551.4L1122.4 550.8L1125.1 551.7L1123.1 552.4L1120.4 552.3ZM1099.0 464.9L1102.4 464.9L1102.7 466.0L1099.6 466.7L1097.9 466.4ZM1119.4 473.8L1121.0 474.1L1120.4 475.6L1119.4 475.2ZM765.7 314.5L772.2 314.4L774.0 311.5L774.9 309.1L776.6 305.2L777.6 303.0L778.0 300.6L777.6 298.4L779.0 295.6L775.9 295.8L773.5 294.9L770.5 297.2L766.7 297.6L761.3 294.7L759.6 296.7L754.9 295.4L751.8 294.9L749.1 294.2L748.4 291.0L745.3 289.6L747.4 289.1L746.7 286.1L744.7 285.4L745.0 283.6L747.7 282.2L751.1 282.2L754.5 282.2L757.6 280.9L754.5 280.1L751.1 280.1L748.7 281.1L746.7 282.2L745.0 283.4L744.5 281.1L744.0 280.6L738.9 280.2L737.5 282.2L738.9 283.1L736.5 282.9L737.2 283.8L735.3 283.6L733.8 281.5L732.8 283.6L735.2 286.4L733.8 287.5L736.2 289.3L737.7 290.7L737.5 291.9L736.2 290.8L734.1 291.0L735.5 292.6L734.5 296.1L732.4 294.9L732.1 296.3L729.7 294.9L728.4 291.7L729.7 289.6L733.5 290.3L727.7 289.4L726.3 287.5L724.6 285.0L723.6 283.6L721.9 282.2L722.1 279.0L721.9 277.1L718.8 274.9L717.5 274.2L713.7 273.0L711.7 271.2L707.6 269.1L706.6 265.9L704.9 264.7L703.2 266.6L701.9 264.2L702.7 263.6L700.5 263.6L698.0 264.5L698.5 266.1L697.8 268.8L698.6 269.3L701.9 270.9L704.2 274.8L707.6 276.9L711.0 276.9L710.0 277.9L713.4 279.7L717.1 281.3L718.8 283.2L718.3 284.3L714.4 282.0L712.4 284.0L714.1 287.1L712.1 288.2L710.7 290.8L709.2 290.7L709.8 288.4L710.4 285.7L709.0 283.4L707.0 282.9L705.1 281.3L704.4 280.6L702.2 279.2L698.8 278.5L697.4 277.4L693.7 275.1L691.7 273.2L691.0 271.1L689.5 269.3L686.2 268.0L683.9 269.6L681.5 270.3L679.8 271.1L677.1 272.6L674.2 271.9L671.3 271.6L669.2 271.2L666.5 273.0L666.7 274.9L667.2 275.5L666.9 276.9L663.5 278.7L659.4 279.9L658.5 281.3L656.0 284.0L654.8 285.5L656.7 288.0L654.3 289.4L653.6 291.9L650.6 293.5L648.5 295.1L645.8 295.1L641.1 295.3L637.8 297.2L637.0 297.7L634.6 296.0L634.3 294.6L632.2 293.5L629.2 294.2L625.6 294.2L626.1 291.0L626.1 289.3L623.7 288.0L624.1 285.9L625.9 282.9L626.4 279.5L625.9 276.9L625.8 275.1L624.4 273.0L627.5 271.6L629.8 270.3L636.3 270.7L643.1 271.2L645.8 271.6L649.9 271.6L650.9 271.1L651.9 267.3L652.1 263.8L651.9 261.7L648.9 259.2L648.5 258.0L646.5 257.1L641.4 256.0L639.7 254.1L640.7 253.2L645.8 252.3L649.2 253.0L650.7 253.0L650.6 251.1L649.5 249.3L651.8 249.3L652.3 250.5L656.3 250.7L656.3 250.0L656.7 249.3L659.7 248.4L661.4 247.5L661.4 245.6L662.3 244.9L664.5 244.4L667.2 243.5L668.2 243.1L669.6 241.4L671.6 239.6L672.1 237.8L674.3 236.9L676.0 236.2L679.4 236.1L680.1 235.3L683.2 235.2L684.9 235.7L685.6 234.5L686.6 234.5L686.1 233.6L685.4 230.9L684.8 229.5L683.5 228.6L684.0 227.0L683.5 225.3L684.1 224.0L685.2 223.2L686.8 222.7L689.0 224.0L689.8 221.4L692.0 220.9L691.7 222.8L691.0 224.9L693.0 225.6L691.9 226.2L690.6 226.7L689.8 227.8L689.0 228.8L688.3 230.6L689.6 231.3L690.3 232.7L693.4 232.7L693.0 234.1L697.1 233.6L698.5 232.5L701.5 232.0L704.2 234.5L704.6 234.5L710.4 233.2L713.7 231.8L718.2 231.3L719.4 232.9L722.6 232.5L723.6 231.8L723.9 230.8L725.2 230.3L726.4 229.9L727.7 229.5L727.5 228.1L727.5 226.9L727.3 225.3L728.0 223.8L728.7 222.4L729.4 221.6L731.1 221.3L732.8 220.9L734.8 222.3L736.0 222.9L737.2 223.5L738.9 222.4L738.9 220.3L739.2 218.6L737.9 218.4L736.5 218.2L735.8 217.3L735.8 215.7L737.5 215.0L738.8 214.9L740.1 214.8L741.5 214.6L742.9 214.4L744.3 214.3L745.7 214.3L747.0 214.7L748.4 214.7L749.8 214.7L751.1 214.8L752.8 213.4L755.2 213.1L756.9 213.1L758.6 213.3L757.2 212.9L755.8 212.7L754.5 212.2L753.2 210.8L751.8 210.9L750.4 211.0L749.1 211.1L747.7 211.3L746.4 211.6L745.0 211.6L743.6 211.9L742.3 212.2L740.9 212.4L739.6 212.6L738.2 212.8L736.9 213.0L735.5 213.3L734.1 213.4L732.9 212.5L731.8 211.5L730.7 210.6L729.7 209.9L728.7 209.0L728.6 207.6L728.5 206.2L728.4 204.8L728.9 203.4L729.4 201.9L730.6 201.4L731.8 200.7L732.9 199.9L734.1 199.3L735.3 198.4L736.6 197.7L738.0 197.1L739.2 196.3L740.8 195.8L742.3 195.2L741.9 193.3L740.7 192.8L739.4 192.6L738.0 192.4L736.7 192.6L735.4 192.9L734.1 193.1L732.7 193.1L731.4 193.3L730.3 194.1L729.0 194.9L728.4 196.3L727.3 197.4L726.2 198.5L725.0 199.5L723.7 200.1L722.2 200.5L720.9 201.0L719.5 201.6L718.1 202.6L716.8 203.7L714.8 204.4L714.4 206.9L714.4 208.7L714.4 210.4L715.9 211.0L717.4 211.5L718.8 212.2L719.6 213.6L720.2 215.0L719.0 215.7L717.7 216.1L716.3 216.4L715.0 217.0L713.7 217.5L713.1 219.1L712.7 220.7L712.3 222.0L712.0 223.4L711.7 224.7L710.4 226.5L708.9 226.8L707.4 226.8L705.9 227.0L705.1 228.1L704.2 229.2L702.8 229.1L701.3 229.2L699.8 229.2L700.2 228.5L699.1 226.9L699.5 224.7L698.5 223.5L697.6 222.2L696.6 221.0L695.3 219.9L694.0 218.7L693.7 216.4L692.9 214.9L692.0 213.4L691.6 214.8L691.0 216.1L688.6 216.8L687.6 218.1L685.9 218.4L684.3 218.6L683.2 219.6L681.4 218.7L679.9 220.0L678.8 219.2L677.0 219.3L674.4 220.6L675.4 216.8L674.4 215.7L673.3 214.7L673.4 213.1L673.0 211.5L672.8 209.4L673.9 207.6L673.0 205.8L674.0 204.5L675.4 203.9L677.1 204.1L678.3 203.7L679.7 203.5L680.5 202.3L682.2 201.9L683.4 201.6L684.6 201.0L685.6 200.2L686.9 200.7L688.0 199.8L689.3 199.8L690.0 198.8L690.9 197.9L692.0 197.2L693.1 196.5L694.0 195.6L695.2 194.9L696.3 194.1L697.4 193.5L698.3 192.4L699.2 191.6L700.2 190.6L702.3 191.0L702.6 189.0L703.6 187.8L704.9 187.1L705.7 185.8L707.3 185.6L708.3 184.6L709.8 184.5L710.8 183.5L712.1 182.9L713.7 181.1L714.9 180.1L716.6 180.6L717.4 178.9L719.1 179.3L720.4 178.8L721.6 178.1L723.4 179.9L724.5 178.6L725.6 177.5L726.9 177.4L728.2 177.0L729.6 177.6L730.7 176.5L731.9 174.9L733.5 175.5L735.2 176.0L736.5 175.3L737.8 174.2L739.1 173.5L740.8 174.3L742.1 173.4L743.6 173.5L745.1 172.9L746.6 173.2L748.0 173.0L749.4 173.8L750.4 174.9L751.8 175.1L753.1 175.2L754.3 175.7L755.6 175.4L756.9 175.4L758.5 175.5L760.1 175.8L761.6 176.3L760.3 177.1L758.7 176.3L757.4 177.2L756.0 177.6L754.5 177.2L755.5 178.3L757.2 177.4L758.2 178.4L759.5 178.4L760.8 178.3L762.5 176.5L764.0 178.4L764.7 177.7L766.3 178.6L768.1 178.4L769.8 180.0L771.1 179.8L772.4 179.9L773.6 180.5L774.9 180.4L776.3 180.6L777.6 181.1L779.1 181.0L780.4 181.5L781.7 182.1L782.9 182.4L784.1 182.8L785.3 183.2L786.5 183.4L787.9 183.1L789.0 184.0L790.2 184.3L791.3 185.0L792.5 185.5L793.9 185.6L794.7 186.9L796.0 187.3L795.3 189.2L794.3 190.1L792.9 190.1L791.9 190.8L790.6 191.2L789.4 191.5L788.1 191.7L786.8 191.5L785.3 192.4L784.0 191.3L782.7 191.4L781.4 190.4L780.0 190.6L778.5 190.6L777.0 190.2L775.7 189.5L774.1 189.6L772.7 189.2L771.3 189.0L770.0 188.8L768.6 188.5L767.2 188.6L766.1 187.6L766.6 189.1L768.1 189.6L769.4 190.1L770.5 191.0L772.0 191.4L773.2 192.0L773.9 193.7L774.2 195.4L774.2 197.0L780.0 198.8L785.1 199.1L783.4 197.3L780.0 194.7L785.1 195.8L791.2 196.6L793.9 196.6L793.2 195.4L792.2 194.4L791.5 193.1L792.9 192.8L794.1 192.0L795.8 192.3L796.5 190.4L798.0 190.2L799.4 189.9L800.7 190.0L802.0 190.9L803.4 190.7L804.8 190.3L806.1 190.6L806.5 192.0L806.6 190.1L805.5 188.5L804.8 187.4L805.6 186.1L806.1 184.6L805.4 183.4L803.9 183.4L803.1 182.3L804.3 182.4L805.6 182.7L806.8 182.5L808.1 182.8L809.3 183.2L810.6 183.0L811.5 184.1L813.0 184.4L814.0 185.3L813.7 187.0L813.3 188.7L814.5 188.3L815.5 187.4L816.8 187.2L818.0 186.8L819.1 186.0L820.2 185.0L821.8 185.2L823.2 185.2L824.4 184.1L825.8 184.0L827.3 184.0L828.6 183.4L830.0 183.1L831.4 182.8L833.0 183.3L834.3 182.5L835.7 182.6L836.9 183.1L838.1 183.7L839.4 183.7L840.1 184.6L841.2 183.3L842.8 182.9L844.1 182.7L845.4 182.4L846.7 183.0L848.0 182.9L849.4 183.6L850.6 182.7L852.0 182.6L853.0 181.8L854.3 182.1L855.5 182.8L856.9 182.7L858.1 183.4L859.4 182.9L860.1 181.0L861.7 181.1L863.2 181.1L862.1 179.7L861.5 178.1L862.7 179.1L864.1 178.4L865.4 178.4L866.8 178.6L868.1 179.2L869.6 179.0L870.9 179.6L872.3 180.1L873.7 179.8L875.1 180.2L876.4 180.4L877.5 181.1L878.9 181.1L879.5 183.2L881.1 182.4L882.5 182.5L883.6 183.2L884.9 183.2L886.1 183.5L887.4 183.1L888.7 183.6L888.5 181.7L890.4 181.3L889.2 180.8L887.9 180.4L886.8 179.7L885.4 179.6L884.3 179.0L883.8 177.7L883.3 176.5L883.0 175.1L882.9 173.7L884.3 173.1L885.7 172.5L886.8 171.3L888.0 170.5L889.1 169.6L889.8 168.5L890.4 167.3L891.7 167.5L892.9 166.9L894.2 166.4L895.5 166.6L896.8 166.8L898.1 167.0L899.4 167.3L900.7 167.5L902.0 167.7L903.3 168.0L903.5 169.7L902.6 171.2L902.2 172.6L901.6 174.0L902.2 175.2L902.8 176.3L903.3 177.5L903.2 179.4L902.6 181.1L903.4 182.3L904.7 182.6L906.0 182.9L905.7 184.5L904.7 185.7L903.4 186.5L902.3 187.5L901.5 188.8L899.9 189.2L898.6 190.1L897.3 190.2L896.0 190.0L894.7 189.8L893.4 190.0L892.1 189.6L893.6 189.3L894.9 189.9L896.4 190.1L897.8 190.4L899.2 190.5L900.6 190.8L901.7 190.0L903.0 189.7L904.1 189.0L905.4 188.8L906.7 188.5L907.0 187.0L907.9 185.9L909.1 185.0L909.9 183.5L910.1 181.8L911.5 181.4L913.0 181.8L914.4 181.7L915.9 181.8L916.9 182.9L918.3 183.5L919.3 184.6L921.0 186.4L920.9 185.1L920.3 183.9L918.8 183.3L918.7 181.6L917.6 180.7L916.3 180.9L915.0 180.4L913.7 181.1L912.5 180.7L911.2 180.6L909.9 180.0L908.7 179.9L907.4 180.4L907.6 178.8L906.7 177.5L907.4 176.4L907.8 175.2L908.4 174.0L907.1 173.3L905.9 172.4L904.3 172.6L905.7 172.6L906.8 171.7L907.8 170.6L909.3 170.9L910.4 170.1L911.5 169.1L911.8 167.7L913.1 167.7L914.4 167.4L915.6 168.0L916.7 169.1L918.0 168.5L919.3 168.7L921.0 170.5L922.3 170.2L923.7 169.7L925.0 170.2L926.4 170.1L927.8 170.5L929.0 171.1L930.3 170.8L931.6 171.3L932.9 171.5L934.2 172.1L935.3 173.1L936.6 173.9L938.0 174.4L938.9 172.8L939.6 171.2L938.2 170.9L937.2 169.4L935.6 169.4L934.3 168.9L933.0 168.4L931.8 167.7L930.5 167.3L929.6 166.3L929.5 165.0L930.7 164.4L932.1 164.6L933.4 164.8L934.7 164.5L936.0 164.2L937.4 164.6L938.7 164.5L940.0 164.5L941.3 164.1L942.7 164.3L944.1 164.4L945.4 164.1L946.8 163.2L948.1 163.8L948.7 162.5L949.8 161.8L950.9 161.0L951.5 159.9L952.8 159.7L954.1 159.4L955.4 159.4L956.7 159.3L958.0 159.1L959.1 158.1L960.4 158.0L961.7 158.1L963.1 157.9L964.5 158.0L965.7 157.0L967.2 157.1L968.5 156.7L969.8 155.9L971.1 156.4L972.4 156.8L973.6 156.3L974.9 155.7L976.2 156.1L977.4 155.3L978.7 156.0L980.0 156.1L981.3 155.8L982.5 155.8L983.8 155.5L985.1 155.4L986.4 155.8L987.6 155.4L988.9 155.3L990.3 155.1L991.6 154.7L993.0 155.0L994.4 154.9L995.7 154.6L997.1 154.1L998.5 153.6L999.7 152.8L1000.8 151.7L1002.1 151.4L1003.5 151.0L1005.0 151.6L1006.2 150.4L1007.5 150.3L1009.0 151.1L1010.3 150.3L1011.7 150.9L1013.1 151.4L1014.6 151.2L1016.1 151.4L1017.3 152.0L1018.8 151.8L1020.0 152.5L1021.2 153.2L1022.5 153.7L1023.9 153.7L1025.2 153.8L1026.6 153.4L1028.0 152.9L1029.3 153.3L1030.7 153.4L1032.0 154.4L1033.4 154.1L1034.8 153.9L1036.5 153.3L1037.5 154.8L1038.8 155.6L1040.2 155.8L1041.6 156.3L1040.9 157.5L1040.8 158.9L1039.9 159.9L1038.5 160.1L1037.1 160.1L1036.1 161.5L1035.0 162.3L1033.4 161.9L1032.1 162.2L1031.0 163.2L1029.7 163.4L1028.3 163.6L1026.9 163.8L1025.6 164.3L1024.3 165.1L1022.9 164.8L1021.7 165.4L1020.3 165.4L1019.2 166.3L1017.8 166.2L1019.1 166.3L1020.3 166.0L1021.6 166.2L1022.9 166.2L1024.3 165.8L1025.6 165.3L1027.1 165.3L1028.6 165.3L1030.1 165.5L1031.4 164.5L1032.8 164.1L1034.2 164.0L1035.6 164.3L1037.1 164.8L1038.4 163.9L1039.9 164.1L1041.6 165.5L1042.9 165.0L1044.4 164.9L1045.8 165.0L1047.3 165.1L1048.6 164.7L1050.1 164.5L1051.3 165.1L1052.6 165.1L1054.0 164.9L1055.1 165.8L1056.4 166.2L1057.6 166.6L1059.1 166.1L1060.2 166.9L1061.9 167.0L1063.6 166.9L1065.0 167.0L1066.2 166.3L1067.3 165.3L1068.9 166.5L1069.9 164.9L1071.4 165.4L1072.4 164.3L1073.8 164.5L1075.1 164.6L1076.4 164.0L1077.6 164.1L1078.9 164.1L1080.2 164.7L1081.5 164.1L1082.8 164.4L1084.0 163.8L1085.4 163.7L1086.5 164.6L1087.8 165.1L1089.1 165.2L1090.3 166.1L1091.9 166.0L1093.0 166.9L1095.1 165.1L1095.9 167.3L1095.3 168.4L1095.0 169.8L1094.2 170.8L1094.5 172.4L1094.2 174.0L1095.8 174.9L1097.6 174.4L1098.9 174.7L1100.1 175.0L1101.4 175.0L1102.7 174.7L1103.7 173.6L1104.6 172.4L1106.1 171.9L1107.4 171.6L1108.7 171.9L1109.9 172.1L1111.2 172.2L1112.6 172.3L1113.9 171.4L1115.3 172.3L1116.6 172.3L1118.0 172.2L1119.7 172.7L1121.4 173.0L1122.9 173.4L1124.2 172.6L1125.6 172.7L1127.1 172.6L1128.4 171.6L1129.9 172.2L1130.0 170.9L1130.8 169.8L1131.6 168.7L1132.8 167.7L1134.3 167.5L1135.5 167.8L1136.7 168.3L1138.0 168.2L1139.3 168.1L1140.5 168.2L1141.8 168.4L1143.0 168.9L1144.3 168.3L1145.6 168.8L1146.9 168.7L1148.2 168.5L1149.5 168.2L1150.7 169.2L1152.0 169.1L1153.3 169.4L1154.7 167.9L1156.0 168.9L1157.3 169.2L1158.6 168.9L1159.9 169.3L1161.3 168.5L1162.5 169.4L1163.9 169.8L1165.0 170.5L1166.4 171.0L1167.2 172.2L1168.6 172.6L1169.9 173.3L1171.2 173.8L1172.6 174.2L1174.0 174.4L1175.4 174.6L1176.7 174.1L1178.0 173.9L1179.3 174.2L1180.7 174.2L1182.0 173.9L1183.3 173.6L1184.6 173.4L1185.9 173.7L1187.3 173.2L1188.5 173.9L1189.7 174.4L1191.0 174.1L1192.2 174.9L1193.5 174.8L1194.8 174.7L1196.1 174.7L1197.3 175.6L1198.5 176.5L1199.5 177.5L1200.7 178.3L1202.1 178.5L1203.3 179.0L1204.6 179.3L1206.0 178.7L1207.4 178.9L1208.8 178.6L1210.2 178.1L1211.7 178.5L1213.1 178.6L1214.4 178.8L1215.7 178.4L1216.9 178.5L1218.2 178.4L1219.5 179.5L1220.8 178.3L1222.0 179.6L1223.3 179.0L1224.8 178.8L1226.3 178.9L1227.7 178.6L1228.9 179.6L1230.1 180.5L1231.2 181.5L1232.8 181.8L1233.4 180.4L1234.8 179.9L1235.5 178.6L1235.2 177.2L1236.6 177.6L1238.0 177.7L1239.5 176.9L1241.0 176.5L1242.2 178.4L1243.7 178.1L1244.9 178.7L1246.2 177.9L1247.5 178.2L1248.8 176.8L1250.1 177.9L1251.3 178.1L1252.6 178.2L1253.9 178.3L1255.1 178.7L1256.3 179.4L1257.6 179.6L1259.1 178.9L1260.3 179.4L1261.6 179.3L1262.8 180.2L1264.1 180.4L1269.2 181.3L1269.2 194.9L1264.1 195.9L1259.0 196.3L1262.4 198.8L1265.1 201.6L1264.4 204.8L1257.3 204.1L1250.5 206.5L1245.4 207.6L1240.3 209.7L1234.5 213.1L1226.7 211.5L1219.9 211.8L1216.5 213.6L1215.2 213.7L1214.0 213.2L1212.7 213.6L1211.4 213.6L1211.1 215.4L1210.7 217.1L1209.7 218.0L1208.5 218.5L1207.3 219.1L1206.3 220.0L1207.8 220.4L1209.3 220.3L1210.7 221.0L1210.7 222.4L1210.8 223.7L1210.7 225.0L1210.7 226.3L1209.3 226.1L1207.8 226.5L1206.3 226.3L1206.6 227.6L1206.6 228.9L1206.6 230.2L1206.7 231.5L1205.4 231.9L1204.2 232.2L1203.1 232.9L1201.9 233.1L1200.7 233.7L1199.5 234.1L1199.5 235.7L1199.5 237.3L1198.1 237.5L1196.6 237.6L1195.1 237.6L1194.7 238.8L1194.1 240.0L1193.7 241.2L1192.7 242.0L1191.6 242.7L1190.5 243.5L1189.4 244.3L1188.3 245.1L1187.6 243.8L1186.9 242.5L1186.3 241.2L1185.9 239.8L1185.7 238.3L1185.2 237.0L1185.1 235.5L1184.6 234.1L1184.5 232.7L1184.6 231.3L1184.6 229.9L1184.6 228.5L1184.6 227.0L1185.3 225.8L1186.3 224.6L1186.9 223.3L1187.5 221.9L1188.3 220.7L1189.8 220.1L1191.2 219.3L1192.7 218.9L1194.1 218.6L1195.1 217.6L1196.4 216.9L1197.6 216.3L1198.8 215.7L1200.2 215.3L1201.2 214.2L1202.4 213.6L1203.5 212.7L1204.8 212.2L1206.0 211.5L1207.1 210.8L1208.0 209.8L1209.2 209.1L1210.4 208.5L1211.4 207.6L1212.6 206.9L1213.4 205.7L1214.5 204.9L1215.5 204.1L1214.3 204.5L1213.3 205.4L1212.2 205.9L1210.7 205.7L1209.7 206.5L1208.4 206.9L1207.5 207.8L1206.3 208.3L1205.2 209.0L1204.1 209.6L1202.9 210.1L1200.5 210.8L1200.3 209.4L1199.9 207.9L1199.5 206.5L1198.1 206.2L1196.8 206.8L1195.4 206.8L1194.1 207.2L1192.7 206.9L1191.3 207.2L1189.8 207.3L1188.3 207.6L1187.7 208.8L1186.4 209.5L1185.8 210.8L1185.0 211.8L1184.2 212.9L1183.3 213.9L1182.5 215.0L1181.3 215.3L1180.0 215.4L1178.7 215.7L1177.4 215.7L1176.0 215.7L1174.6 215.3L1173.2 215.0L1171.8 215.0L1170.4 214.7L1168.9 214.7L1167.6 214.8L1166.2 214.3L1164.9 214.4L1163.5 214.4L1162.2 214.3L1160.9 214.7L1159.6 214.3L1158.3 214.4L1157.1 215.6L1155.8 215.1L1154.5 215.1L1153.3 215.4L1152.0 215.4L1150.6 215.4L1149.2 215.4L1147.9 215.5L1146.5 215.2L1145.2 215.5L1143.8 215.2L1142.5 215.2L1141.4 216.0L1140.1 216.3L1139.1 217.1L1137.8 217.5L1136.6 218.0L1135.7 219.0L1134.3 219.2L1133.3 220.0L1132.2 220.8L1131.2 221.7L1130.0 222.3L1128.7 222.7L1127.7 223.6L1126.5 224.2L1125.5 225.4L1124.8 226.7L1123.7 227.7L1123.1 229.0L1122.2 230.1L1121.4 231.3L1120.1 231.4L1118.8 231.5L1117.6 231.4L1116.3 231.6L1117.5 232.3L1118.5 233.2L1119.5 234.1L1120.7 234.8L1122.1 235.0L1123.4 235.0L1124.8 235.2L1126.1 234.7L1127.4 234.4L1128.6 233.9L1129.9 233.4L1131.2 234.0L1132.4 234.8L1133.7 235.3L1135.0 236.0L1136.3 236.6L1134.0 237.1L1134.6 238.2L1135.4 239.3L1136.0 240.5L1135.1 241.8L1134.3 243.1L1134.1 244.4L1133.8 245.7L1133.5 247.0L1133.3 248.2L1132.6 251.8L1126.5 258.9L1120.7 265.9L1115.3 270.5L1108.5 273.7L1104.1 272.6L1101.0 274.4L1100.0 275.5L1096.9 278.3L1096.6 280.4L1091.8 283.6L1089.1 284.5L1088.8 286.4L1092.2 288.5L1094.2 291.7L1095.6 296.0L1095.9 297.7L1095.2 300.2L1094.2 300.9L1090.8 302.0L1085.7 303.6L1085.0 301.3L1085.7 297.7L1084.5 295.3L1086.4 294.2L1086.1 292.6L1084.4 291.6L1080.6 291.0L1079.6 290.3L1081.3 288.2L1080.6 285.4L1078.6 284.1L1073.8 285.0L1067.5 288.0L1069.4 285.4L1068.7 283.6L1071.1 281.7L1067.0 280.6L1063.3 283.6L1060.2 286.4L1056.8 286.6L1055.8 287.1L1056.2 289.3L1059.9 290.8L1060.2 293.5L1061.9 293.9L1066.0 291.4L1068.4 292.3L1072.5 292.8L1071.8 294.7L1067.0 295.6L1064.7 297.6L1061.9 299.9L1060.9 302.2L1064.7 303.7L1066.7 308.3L1070.1 312.9L1069.8 315.4L1067.0 316.8L1066.0 317.9L1069.1 318.9L1070.8 319.3L1070.1 321.8L1069.1 325.0L1067.0 326.4L1065.0 328.8L1062.6 332.0L1062.3 333.1L1060.2 335.9L1059.2 337.3L1057.2 338.6L1054.5 341.6L1052.4 342.5L1048.4 344.8L1043.9 346.2L1041.9 344.8L1041.7 346.7L1036.5 348.1L1033.1 349.2L1031.4 350.1L1031.0 353.2L1028.8 351.1L1028.7 349.0L1026.6 349.2L1024.1 348.6L1022.9 349.0L1019.8 350.9L1018.5 351.8L1018.1 353.6L1015.7 356.8L1015.2 358.9L1017.4 361.7L1018.5 363.5L1021.5 366.3L1023.7 368.1L1025.9 370.9L1027.1 376.4L1027.8 379.4L1027.0 382.9L1025.9 385.1L1023.2 386.5L1019.8 388.4L1018.5 390.4L1016.8 392.1L1013.7 393.9L1011.8 394.6L1012.2 391.1L1012.9 389.6L1010.8 388.2L1007.9 387.9L1006.2 385.4L1005.7 384.0L1003.5 381.9L999.1 380.3L998.8 377.6L997.4 377.3L995.7 378.0L995.5 380.5L994.3 384.3L993.0 387.9L993.3 392.1L995.7 395.0L997.7 399.5L1000.1 400.6L1002.8 402.9L1006.2 405.9L1007.4 410.2L1007.6 414.7L1010.0 419.3L1010.1 420.2L1007.6 420.4L1004.2 417.6L1000.5 414.7L998.4 410.9L996.9 405.9L996.9 403.1L996.0 402.2L994.7 400.6L993.3 398.8L992.0 396.7L989.9 397.4L989.8 395.0L990.3 391.4L990.8 389.6L990.6 384.3L990.9 381.0L989.6 377.3L989.2 375.5L987.9 371.3L987.5 366.7L985.2 364.6L983.1 366.7L980.1 369.1L976.3 368.6L977.0 363.1L976.3 358.9L974.3 356.8L971.6 353.8L969.5 351.1L968.4 349.2L967.8 346.2L966.1 344.8L963.8 346.2L962.7 347.8L960.0 348.3L956.0 348.6L954.3 348.3L951.5 349.4L951.2 351.8L950.5 353.2L947.5 355.0L945.1 356.6L941.7 360.3L939.0 362.4L935.6 365.1L934.6 367.0L931.8 368.8L928.4 370.9L928.3 374.1L928.8 378.7L927.3 382.9L927.3 388.6L925.4 388.8L924.0 392.1L921.6 393.9L919.4 396.4L917.2 395.0L915.0 389.8L913.3 385.2L910.3 379.4L908.7 374.4L906.7 370.4L905.0 364.9L903.3 357.8L903.0 353.6L903.0 350.4L902.3 346.5L901.3 348.1L898.9 351.1L897.0 351.8L893.8 350.1L892.4 348.5L890.2 346.3L890.4 345.6L894.8 343.9L891.6 344.4L889.0 342.6L887.7 341.2L885.3 340.5L883.4 337.3L882.2 335.2L875.4 335.9L871.7 335.7L867.6 336.3L865.3 335.9L861.9 335.6L852.3 334.3L849.6 330.6L847.3 328.8L842.2 331.3L837.1 330.3L834.3 327.8L828.7 322.7L826.5 318.9L822.5 317.4L821.1 319.1L819.1 321.1L820.4 324.3L824.7 329.6L826.5 331.7L826.5 334.5L828.6 337.5L828.4 334.9L830.1 332.6L831.1 335.6L831.3 338.0L831.3 339.5L834.3 339.6L840.8 338.4L843.9 335.7L846.2 333.8L847.6 331.9L847.4 336.3L848.8 338.9L855.1 341.6L859.1 345.5L856.4 350.1L854.7 352.9L852.0 355.5L852.3 358.2L847.9 361.5L843.5 363.1L839.8 364.9L836.4 366.1L833.3 368.4L829.2 371.3L822.8 373.6L819.1 375.5L814.0 377.6L808.9 379.8L803.6 380.3L802.9 378.0L801.9 372.7L801.1 367.2L800.5 365.3L796.6 360.3L794.6 356.1L792.7 353.8L789.0 349.0L788.3 345.8L785.3 339.8L782.4 336.6L779.8 332.2L777.3 328.3L774.9 325.7L773.5 325.7L774.9 320.7L774.6 320.7L773.0 325.0L772.3 326.9L770.1 325.0L768.4 322.5L766.6 319.1ZM42.8 181.3L51.3 182.9L59.8 186.0L62.2 188.2L68.3 188.0L75.1 189.0L79.5 191.3L76.5 193.1L70.7 193.5L70.7 197.3L66.6 197.5L59.8 195.9L56.4 193.5L49.6 193.5L47.6 190.6L45.9 192.0L42.8 194.9ZM636.6 248.1L641.7 247.0L645.8 245.8L649.5 246.1L653.3 245.6L657.0 245.6L660.8 244.2L660.8 243.3L658.0 242.9L661.4 241.2L661.9 238.7L657.4 237.8L657.0 236.6L655.7 235.5L655.3 233.8L651.9 231.8L651.1 230.6L650.6 229.2L648.9 227.4L647.1 227.4L645.5 227.0L647.2 225.6L648.2 224.4L649.2 223.2L649.9 221.4L648.6 220.7L647.1 222.4L645.8 221.9L644.5 221.0L642.1 221.4L643.6 220.6L644.1 218.8L645.5 217.8L644.2 217.4L642.9 216.8L641.6 218.4L640.3 218.8L639.0 217.8L638.3 220.0L637.5 221.2L636.3 222.1L636.3 223.8L637.0 225.3L634.9 224.6L635.7 226.1L637.0 227.0L636.6 229.5L638.1 229.1L639.4 228.5L639.7 230.9L642.4 231.3L645.8 230.9L644.1 232.7L646.1 233.8L645.5 236.2L641.4 236.4L640.4 238.4L642.1 240.1L638.3 241.5L641.7 242.6L645.1 243.3L642.8 244.0L640.7 245.1L638.7 246.8ZM635.6 240.5L635.3 236.6L635.3 234.1L637.3 232.3L635.6 230.0L634.1 230.0L632.7 229.5L631.2 229.3L629.5 229.8L627.8 230.2L627.1 232.7L622.0 233.4L622.7 236.2L625.4 237.1L623.7 238.7L621.0 240.8L621.7 242.6L623.7 242.9L627.8 241.9L632.2 240.6ZM579.6 199.3L580.9 198.7L581.5 203.5L583.3 200.0L584.7 199.0L585.8 200.1L587.0 200.4L588.4 200.1L589.7 201.2L590.9 202.6L592.5 200.9L593.8 200.8L594.9 200.1L596.2 200.1L597.4 199.3L598.5 198.7L599.9 199.1L601.6 199.5L602.7 197.8L604.5 198.9L605.7 197.7L607.1 196.8L608.6 196.3L609.8 195.2L608.5 194.2L609.1 191.3L606.4 191.7L604.8 192.0L603.0 192.9L602.2 190.7L601.0 189.9L599.5 189.6L598.0 189.2L596.8 190.3L595.5 190.9L594.2 191.2L592.8 191.5L591.3 191.7L589.9 190.1L588.5 191.8L587.0 191.3L586.2 192.5L585.2 193.4L583.6 193.5L582.4 193.0L581.3 192.2L580.7 190.9L579.6 190.3L577.9 189.8L577.5 191.9L575.8 191.3L575.1 192.9L573.8 193.1L575.1 193.5L576.5 193.4L578.0 192.2L579.2 193.9L580.6 193.8L579.2 194.5L577.8 195.0L576.6 196.2L574.8 195.8L576.1 195.9L577.6 195.7L578.8 196.3L580.3 195.9L581.3 197.3L581.6 199.3ZM693.4 143.6L694.7 142.4L696.2 143.1L697.6 142.6L698.9 141.8L700.4 142.1L701.9 142.7L703.1 139.4L704.7 142.4L706.1 143.0L707.6 144.3L708.9 141.7L710.4 142.2L711.9 141.0L713.3 141.4L714.6 143.1L716.1 141.9L717.4 143.0L718.8 143.3L720.3 143.0L721.2 144.8L722.7 144.3L723.8 145.1L725.2 145.4L726.7 145.0L727.7 146.3L729.0 146.4L727.8 147.2L726.3 145.8L725.0 146.4L723.7 146.5L722.6 148.0L721.1 147.4L719.9 147.9L719.1 149.1L718.3 150.1L717.1 151.0L715.6 151.2L715.1 152.9L714.1 153.8L712.7 154.2L711.1 154.3L709.9 153.2L708.5 152.7L707.0 152.5L705.5 151.7L703.3 151.9L702.9 149.6L701.6 148.8L700.2 148.2L699.0 147.3L697.7 146.9L696.6 146.1L695.1 146.1L694.2 144.8ZM717.1 141.8L718.3 140.5L719.7 141.5L720.7 139.5L722.3 141.3L723.5 140.7L724.7 140.0L726.1 140.8L727.3 140.4L728.7 139.5L730.0 141.2L731.3 140.6L732.6 140.6L734.0 138.9L735.3 140.6L736.6 140.0L737.9 140.5L739.2 140.8L740.7 139.9L742.0 140.0L743.2 141.1L744.5 140.9L745.8 141.7L747.1 141.2L748.4 141.8L748.0 143.9L746.0 143.0L745.0 144.1L743.6 144.3L742.2 144.1L740.8 144.7L739.4 144.8L738.0 143.5L736.6 144.9L735.2 144.7L733.8 144.7L732.4 144.7L731.2 144.0L729.9 144.1L728.6 144.0L727.3 144.1L726.0 144.4L724.8 143.3L723.5 143.5L722.2 143.6L721.1 142.7L719.6 143.1L718.3 142.6ZM727.3 148.6L728.6 147.1L730.1 148.6L731.4 147.8L732.7 147.1L734.1 147.9L735.7 147.5L737.4 146.6L738.0 149.1L739.2 149.6L738.0 150.4L736.6 150.7L735.3 151.4L733.8 151.2L732.4 151.7L731.1 151.6L729.9 151.0L728.6 150.9L727.3 150.7ZM815.7 140.4L816.9 140.2L818.2 140.1L819.5 140.0L820.8 140.3L822.0 139.6L823.3 139.3L824.5 138.7L825.9 139.0L827.2 138.8L828.5 139.5L829.9 138.8L831.3 139.7L832.7 139.1L834.0 139.5L835.3 139.8L836.7 140.0L838.1 139.9L839.4 139.7L840.8 139.7L842.1 139.5L843.4 139.4L844.7 138.9L846.1 139.6L847.4 139.7L848.6 138.0L850.0 139.0L851.3 138.7L852.7 138.9L854.0 138.9L855.4 138.6L856.8 138.6L858.1 139.2L859.5 139.0L860.8 139.3L862.2 138.5L863.6 139.0L864.9 139.0L864.1 140.7L862.5 140.2L860.9 139.9L859.8 140.8L858.4 140.5L857.1 141.3L855.7 140.9L854.4 141.5L853.0 140.8L851.6 141.1L850.3 141.3L849.0 141.7L847.6 141.3L846.2 141.8L845.0 142.6L843.7 142.0L842.4 141.7L841.1 141.6L839.9 142.5L838.6 141.8L837.3 142.1L836.0 141.8L834.8 142.4L833.5 142.3L832.2 142.3L830.9 142.2L829.6 144.0L828.3 142.3L827.0 142.1L825.6 142.5L824.3 142.3L823.0 142.0L821.7 141.6L820.4 141.9L819.1 141.8L817.3 141.3ZM830.9 172.2L832.5 172.4L833.7 173.2L834.8 174.5L836.5 174.3L837.7 175.1L839.1 175.0L840.4 175.1L841.7 174.3L843.0 175.6L844.3 175.1L845.6 176.0L847.0 175.3L848.3 175.7L849.6 175.4L848.9 173.8L847.0 173.8L845.8 172.8L844.5 171.9L845.4 170.5L845.9 168.9L846.9 167.7L845.7 167.2L845.0 165.8L843.5 165.9L842.1 166.7L840.5 166.2L839.1 167.3L837.6 166.6L836.0 166.2L837.6 167.0L837.8 169.1L839.4 169.8L838.2 169.9L836.9 170.0L835.7 169.8L834.4 170.2L833.3 171.0L832.0 170.5ZM836.7 165.7L838.0 166.1L839.3 165.8L840.5 166.2L841.8 165.5L843.0 165.0L844.3 165.8L845.6 165.4L846.7 164.9L848.0 164.5L849.1 163.9L850.0 162.9L851.3 162.7L852.7 162.5L854.5 163.5L855.2 161.4L856.2 160.3L857.7 160.4L858.9 159.9L860.3 159.7L861.5 159.2L862.8 158.5L864.2 159.2L865.3 157.8L866.8 158.4L868.1 158.4L869.5 159.0L870.6 157.5L872.0 157.7L873.2 156.7L874.7 157.4L875.9 157.0L877.2 156.5L878.5 156.3L879.8 156.2L881.0 155.7L882.1 154.9L883.5 155.1L884.8 155.0L886.0 154.4L887.3 154.4L888.4 153.4L889.7 153.5L888.2 153.1L886.6 153.3L885.1 153.0L883.6 152.8L882.3 152.8L881.2 153.4L879.9 153.5L878.7 153.7L877.4 153.7L876.1 153.7L875.0 154.3L873.7 154.5L872.5 154.6L871.3 154.9L870.0 154.9L868.7 155.0L867.5 155.5L866.1 154.6L864.9 155.5L863.6 155.3L862.4 155.6L861.1 156.1L859.9 156.3L858.5 155.9L857.1 154.3L856.0 156.6L854.7 156.3L853.3 156.1L852.0 156.7L850.9 157.7L849.6 157.8L848.9 160.1L847.2 159.3L845.7 158.9L844.5 159.5L843.2 160.1L842.0 161.2L840.9 162.3L839.4 162.7L838.7 163.8L837.4 164.5ZM820.1 180.7L821.4 180.3L822.8 180.6L824.1 180.4L825.5 180.4L824.8 182.0L823.5 182.0L822.1 182.0L820.8 182.0ZM855.1 176.5L856.5 177.4L858.1 177.1L859.6 177.5L861.2 177.5L859.8 178.5L858.1 178.4L856.7 177.7L855.1 177.9ZM892.1 165.5L893.4 165.4L894.8 165.7L896.2 165.4L897.5 165.0L898.9 165.2L898.2 166.6L896.7 166.3L895.3 166.7L893.8 166.8ZM977.0 144.0L978.3 143.7L979.6 143.7L981.0 143.8L982.1 143.1L983.3 142.2L984.7 142.7L986.0 142.4L987.2 141.8L988.9 139.4L989.8 142.3L991.1 142.6L992.5 142.3L993.8 142.4L995.2 142.2L996.4 143.3L997.8 143.3L999.0 144.4L1000.4 144.1L1001.8 144.5L1003.3 143.7L1004.5 144.6L1005.9 144.9L1007.3 145.1L1008.6 145.4L1007.2 145.2L1006.0 145.6L1004.8 146.5L1003.4 146.2L1002.0 145.7L1000.9 146.9L999.4 146.1L998.4 148.1L997.0 147.3L995.7 147.5L994.4 147.2L993.1 147.0L991.8 146.8L990.5 146.0L989.1 146.5L987.8 146.5L986.5 146.1L985.2 145.2L983.8 145.7L982.3 145.9L981.2 144.6L979.6 145.2L978.3 144.6ZM982.1 140.4L980.7 140.2L979.4 139.7L978.0 139.2L976.9 138.2L975.3 138.3L976.6 137.9L977.9 138.0L979.1 137.8L980.4 138.0L981.7 137.9L983.0 137.9L984.2 138.2L985.5 138.0L986.3 139.2L988.0 138.7L988.9 139.7L987.5 139.8L986.2 140.4L984.8 139.9L983.4 139.6ZM995.7 148.6L997.0 148.8L998.3 148.9L999.6 148.1L1000.9 148.5L1002.2 148.6L1003.5 148.3L1004.8 147.7L1006.2 148.3L1007.5 148.0L1008.8 148.3L1010.1 148.5L1011.4 148.3L1012.7 147.9L1011.3 148.2L1009.8 148.5L1008.7 149.5L1007.0 149.2L1005.9 150.3L1004.7 149.6L1003.2 151.2L1002.0 150.3L1000.7 150.4L999.5 150.1L998.2 149.5L996.9 149.5L995.6 149.9L994.3 149.4ZM1121.4 158.8L1122.6 158.4L1124.0 158.5L1125.2 157.9L1126.5 157.7L1128.1 159.0L1129.0 157.1L1130.3 157.0L1131.6 156.7L1132.9 156.7L1134.2 156.6L1135.5 156.9L1136.8 156.9L1138.1 157.2L1139.4 156.5L1140.7 156.7L1142.0 157.0L1143.3 157.3L1144.6 157.3L1146.0 156.7L1147.3 156.8L1148.6 157.4L1148.4 159.6L1146.2 159.9L1144.9 160.0L1143.6 159.0L1142.4 160.2L1141.1 159.7L1139.9 160.0L1138.7 160.4L1137.5 161.1L1136.2 160.3L1135.0 160.9L1133.7 161.0L1132.4 161.0L1131.1 161.3L1129.9 161.3L1128.6 160.9L1127.3 160.7L1126.0 161.0L1124.8 160.6L1124.2 159.0L1122.7 159.1ZM1152.0 158.5L1153.2 159.2L1154.5 158.5L1155.8 158.5L1157.0 158.9L1158.3 158.9L1159.6 158.7L1160.9 159.1L1162.1 159.3L1163.5 158.5L1164.7 158.5L1166.0 158.9L1167.2 159.2L1165.9 159.2L1165.1 160.5L1163.9 160.8L1162.5 161.1L1161.3 160.5L1160.0 160.4L1158.7 161.1L1157.5 160.0L1156.2 160.3L1154.9 160.9L1153.7 160.1ZM1132.6 163.9L1133.9 164.4L1135.2 164.1L1136.5 164.2L1137.8 164.4L1139.1 165.1L1140.5 164.3L1141.8 164.8L1140.4 165.1L1139.1 165.5L1137.7 165.7L1136.3 165.5L1135.0 165.9L1133.6 166.1L1132.2 165.8L1130.9 165.5ZM1262.7 173.7L1269.2 172.2L1269.2 174.5L1264.1 174.5ZM42.8 172.2L51.3 172.2L53.0 174.0L42.8 174.5ZM1138.4 233.0L1139.6 234.0L1140.6 235.2L1141.8 236.2L1141.9 237.5L1142.3 238.7L1142.5 239.9L1142.8 241.2L1142.8 242.6L1142.9 244.0L1143.0 245.4L1143.0 246.8L1143.1 248.2L1147.5 252.5L1141.8 254.6L1143.8 259.6L1143.1 262.0L1140.1 260.3L1138.4 262.4L1138.4 256.0L1138.7 251.8L1138.4 246.5L1138.1 244.9L1137.7 243.4L1137.4 241.9L1137.5 240.2L1137.6 238.6L1137.7 236.9L1138.0 235.7L1138.2 234.3ZM1183.9 247.5L1185.3 246.6L1186.6 245.6L1185.9 247.5ZM1165.5 261.7L1167.6 262.4L1164.2 263.5ZM1155.4 266.6L1161.5 264.2L1157.4 266.3ZM1150.6 270.2L1153.3 268.0L1151.3 269.6ZM1210.4 217.8L1211.4 216.9L1212.7 216.7L1213.9 216.0L1215.1 215.7L1213.8 216.9L1212.4 218.0ZM1123.1 229.9L1125.5 230.6L1123.8 231.6ZM1132.6 278.3L1135.7 277.2L1135.0 274.8L1142.5 276.5L1149.6 272.3L1149.6 268.4L1143.5 268.8L1138.0 264.2L1137.0 269.5L1136.0 272.3L1132.9 271.9L1131.2 275.5ZM1135.0 278.5L1136.7 281.8L1138.4 285.4L1136.7 289.6L1135.0 291.0L1134.6 294.6L1133.6 297.0L1134.5 298.8L1131.6 301.5L1130.9 299.5L1128.5 300.6L1127.5 302.5L1125.5 302.5L1121.4 302.5L1121.0 303.7L1119.0 304.5L1117.3 306.6L1114.9 305.2L1115.3 302.7L1111.2 302.7L1106.1 303.7L1101.0 305.0L1100.7 303.6L1103.7 302.3L1106.8 299.5L1111.2 299.3L1115.6 298.8L1118.0 297.7L1120.7 293.9L1122.4 292.4L1121.4 294.9L1126.5 292.8L1129.5 290.0L1131.6 285.0L1131.2 281.5L1132.6 279.4L1134.0 280.4ZM1106.1 305.9L1109.5 304.8L1113.2 304.1L1113.6 305.5L1111.9 307.3L1108.5 308.3L1107.1 309.1L1105.8 307.3ZM1100.7 305.2L1103.4 306.2L1104.4 308.7L1102.4 314.0L1100.0 315.4L1098.3 314.0L1098.3 310.8L1096.6 309.4L1096.3 307.3L1098.6 306.2ZM1089.8 332.7L1091.8 330.3L1090.5 331.3ZM1095.2 325.3L1096.6 324.3L1095.6 325.7ZM1099.0 317.9L1100.0 317.5L1099.3 318.2ZM1067.0 336.4L1070.1 336.6L1068.7 341.9L1066.5 347.4L1064.3 344.4L1064.0 341.2L1066.0 338.0ZM1025.3 356.8L1028.0 354.5L1031.7 353.9L1033.1 355.7L1031.0 358.9L1028.3 360.7L1025.3 359.2ZM1084.7 307.3L1087.1 306.6L1086.1 307.5ZM1065.7 359.6L1070.1 360.0L1071.8 363.8L1069.1 368.4L1069.1 372.0L1071.1 375.2L1074.9 375.9L1077.6 379.0L1077.2 380.5L1073.8 377.3L1070.4 376.9L1067.7 376.7L1065.7 374.8L1066.7 372.9L1064.0 372.7L1063.3 367.7L1065.0 366.3ZM1065.0 377.6L1068.4 378.0L1068.7 381.2L1067.0 381.7ZM1061.9 385.1L1061.9 387.9L1056.8 392.5L1054.1 395.3L1054.5 393.9L1058.9 389.3L1060.9 386.5ZM1070.4 383.3L1074.2 384.2L1073.8 386.5L1070.4 387.9L1070.1 386.1ZM1071.8 387.5L1074.9 386.5L1075.2 389.6L1074.2 392.8L1072.1 391.1ZM1075.2 391.1L1077.2 385.4L1077.4 389.6L1076.2 391.1ZM1078.2 384.3L1080.3 385.1L1081.0 388.6L1079.9 389.1L1078.6 386.5ZM1078.2 380.8L1081.6 381.2L1083.0 385.4L1080.6 385.2L1080.3 383.3ZM1076.5 390.2L1078.9 389.3L1078.9 390.7L1077.2 391.1ZM1082.0 390.5L1084.7 392.5L1085.7 398.1L1084.7 402.4L1083.0 400.3L1082.0 405.2L1077.9 403.1L1077.2 398.1L1075.2 398.8L1070.8 400.4L1070.4 397.8L1073.8 395.0L1076.5 396.7L1079.9 393.5ZM1026.3 419.3L1030.7 419.0L1033.7 420.1L1034.4 416.5L1039.9 413.7L1043.3 408.7L1048.4 405.6L1052.4 400.6L1055.5 402.4L1060.9 406.6L1057.2 408.7L1056.2 412.3L1054.8 413.7L1056.8 417.2L1059.9 421.5L1056.2 422.2L1055.1 427.1L1051.8 431.4L1050.1 437.7L1045.3 439.5L1039.9 436.3L1035.8 437.0L1030.3 435.3L1029.7 429.9L1027.0 426.8L1026.3 423.9ZM979.7 405.2L987.2 406.6L989.9 410.5L995.7 415.5L998.4 417.6L1003.2 420.8L1007.2 423.2L1008.6 425.4L1007.6 428.5L1011.0 431.4L1016.1 435.6L1015.7 440.6L1015.4 445.5L1011.3 445.9L1008.9 442.7L1003.5 439.1L999.1 433.8L996.7 428.2L992.6 423.9L991.3 419.0L987.9 416.5L983.8 411.9L980.1 408.0ZM1013.4 449.0L1016.4 445.9L1019.5 446.0L1024.9 448.9L1031.0 449.6L1032.7 447.6L1038.5 449.4L1044.6 452.6L1044.6 455.4L1038.8 454.7L1032.0 454.0L1024.9 452.2L1017.8 451.2ZM1038.8 449.4L1043.6 449.6L1042.9 450.5L1038.8 450.5ZM1045.0 454.0L1049.0 454.7L1047.3 456.1ZM1050.1 454.7L1052.4 455.0L1051.4 456.5ZM1052.8 455.0L1055.5 453.6L1060.2 455.4L1056.8 456.5L1052.8 456.8ZM1063.0 455.0L1065.3 454.3L1073.5 454.0L1073.2 455.6L1063.6 456.3ZM1060.2 458.6L1064.3 458.6L1066.4 460.7L1063.6 461.4ZM1075.9 461.6L1077.2 458.2L1081.0 455.4L1088.1 454.7L1085.7 456.8L1080.6 459.6L1077.9 461.1ZM1073.8 454.3L1076.5 454.0L1078.9 454.0L1081.0 454.0L1078.2 455.0ZM1083.3 452.6L1086.4 451.9L1084.0 453.1ZM1101.0 451.5L1103.4 450.5L1102.7 453.3ZM1111.9 445.5L1113.6 444.8L1113.2 448.3L1111.9 449.0ZM1013.4 431.0L1016.8 430.7L1018.5 434.2L1016.1 435.6ZM1021.5 434.2L1023.6 434.5L1022.9 436.3ZM985.8 420.1L988.6 421.8L987.9 422.9ZM990.9 428.5L993.0 430.7L992.0 431.0ZM981.4 414.7L983.8 416.5L982.1 416.2ZM1066.4 420.4L1073.5 421.8L1079.3 420.1L1081.3 419.3L1078.6 423.6L1074.5 423.9L1067.7 423.2L1064.0 425.0L1064.0 428.2L1067.7 428.5L1074.9 427.1L1075.2 428.5L1069.4 431.4L1073.5 437.4L1074.2 442.0L1071.5 441.3L1069.1 439.8L1068.4 435.6L1066.7 434.5L1064.7 435.3L1065.0 442.0L1064.7 444.4L1061.9 444.4L1062.3 438.8L1059.9 437.4L1059.6 434.9L1061.6 429.6L1063.0 424.3ZM1071.8 441.6L1073.8 440.9L1073.2 444.8ZM1070.1 443.0L1070.8 443.4L1070.4 444.3ZM1089.5 417.2L1090.8 417.2L1090.5 420.1L1093.2 420.1L1090.8 422.5L1093.2 423.9L1090.8 427.5L1089.1 423.6L1088.8 420.8ZM1090.8 435.3L1095.9 434.9L1100.3 435.6L1097.6 437.4L1091.5 437.0ZM1084.4 436.3L1088.1 436.7L1086.4 438.6ZM1088.8 429.9L1091.5 431.0L1089.5 431.2ZM1078.2 431.0L1081.6 431.4L1085.0 431.4L1080.6 432.1ZM1101.0 427.8L1105.8 426.4L1111.2 427.8L1112.2 433.8L1114.6 436.7L1118.0 433.1L1124.1 430.3L1131.2 433.1L1135.0 434.2L1141.8 437.0L1146.9 438.4L1151.3 442.3L1151.3 444.4L1157.1 446.2L1158.1 448.7L1155.4 449.0L1156.4 451.5L1159.4 453.6L1162.8 456.8L1165.5 459.3L1168.3 461.4L1165.5 462.8L1158.8 461.1L1155.0 457.9L1152.0 453.6L1147.5 451.9L1143.8 454.0L1142.8 456.8L1136.0 457.5L1131.6 454.0L1127.8 454.7L1124.8 451.2L1127.8 449.4L1124.8 444.4L1118.0 440.9L1111.2 438.8L1107.8 439.1L1107.1 437.0L1104.4 435.3L1109.5 433.8L1105.4 432.8L1102.0 430.3ZM1159.8 444.8L1163.9 444.4L1168.3 444.4L1170.6 442.3L1173.0 439.8L1173.7 442.7L1170.6 444.8L1168.9 446.6L1164.2 447.3ZM1168.3 434.2L1172.0 435.6L1175.4 438.8L1176.1 441.6L1174.4 439.8L1171.7 436.7ZM1181.5 444.1L1184.6 446.6L1185.6 449.0L1183.6 448.3ZM1154.0 432.1L1156.7 432.2L1155.4 432.8ZM1187.6 448.7L1191.0 450.8L1189.3 450.8ZM1194.8 451.9L1198.8 454.7L1196.1 453.6ZM1198.2 457.9L1202.2 459.6L1198.8 459.6ZM1201.9 454.7L1203.9 458.6L1202.6 457.2ZM1203.9 461.4L1207.3 463.2L1205.0 462.8ZM1221.9 477.0L1224.0 480.1L1222.3 480.1ZM1224.0 481.6L1226.0 483.3L1224.7 483.3ZM1227.4 487.2L1228.4 487.9L1227.4 488.1ZM1213.1 496.1L1217.9 498.9L1223.3 503.8L1219.9 502.8L1214.5 498.9ZM1258.3 486.9L1262.7 487.2L1262.4 489.3L1258.6 489.3ZM1262.7 483.3L1267.5 482.3L1265.4 484.7ZM927.4 390.4L930.5 392.1L933.9 398.1L933.5 402.0L929.8 404.0L927.8 402.7L927.1 398.1L927.1 394.6ZM970.9 377.3L971.9 378.0L971.6 381.9L970.6 384.0L970.6 380.5ZM969.9 386.8L970.6 387.5L970.2 387.9ZM974.3 399.5L975.0 399.9L974.6 401.0ZM698.1 291.4L701.2 290.0L709.0 289.6L707.6 292.8L707.3 295.4L704.9 294.9L698.8 292.1ZM683.9 287.1L684.5 280.8L687.3 279.2L689.3 281.5L688.6 286.4L686.6 287.1L685.2 287.5ZM685.2 276.9L687.9 273.0L688.4 275.8L687.4 278.7L685.9 278.3ZM735.8 299.2L738.5 300.0L743.6 300.0L745.3 300.6L740.9 301.5L736.2 300.4ZM765.7 301.3L768.1 300.0L773.5 298.8L771.5 301.3L768.1 302.7ZM664.2 285.0L666.9 283.8L667.7 284.7L666.5 286.1L664.8 285.7ZM660.1 287.5L661.4 286.8L661.1 287.8ZM668.9 283.6L670.6 283.8L670.3 284.3ZM735.2 287.3L738.2 288.5L739.6 290.7L737.5 289.3L735.2 288.0ZM744.3 286.1L746.4 286.8L745.0 287.3ZM750.4 296.3L752.0 297.0L750.3 297.9ZM744.0 288.7L744.8 289.6L744.0 289.8ZM722.8 284.5L724.3 285.5L723.6 285.7ZM725.6 289.6L726.7 290.3L725.6 290.3ZM717.8 223.5L718.7 222.3L719.7 221.3L720.5 220.1L719.9 222.4ZM711.7 226.0L712.5 224.8L713.3 223.6L714.1 222.4L713.4 223.8L712.7 225.3ZM730.7 218.2L732.4 218.1L734.1 217.8L732.8 219.6L730.4 219.6ZM731.8 216.4L734.1 216.4L732.8 217.3ZM705.9 229.5L707.5 230.0L706.3 230.6ZM722.6 211.8L725.0 211.7L724.3 212.7ZM692.7 229.5L691.0 228.5L689.3 229.5L690.9 230.1L692.3 230.9ZM693.4 228.1L695.0 227.6L696.5 227.2L698.1 226.7L698.8 228.5L697.8 229.4L697.1 230.6L695.6 230.3L694.0 229.9ZM693.4 231.3L696.4 231.3L695.1 232.0ZM700.5 232.2L702.5 232.0L702.2 233.0L700.8 233.0ZM630.2 222.4L631.7 221.9L632.2 220.2L632.9 218.8L634.6 218.4L634.9 219.3L633.3 219.9L632.2 221.4ZM633.6 221.7L634.9 222.0L636.0 222.8L635.3 223.2ZM644.5 216.8L645.4 215.3L647.2 215.7L646.1 217.1ZM650.6 211.8L652.6 210.4L652.5 211.7L651.9 212.9ZM634.3 225.6L636.3 225.3L636.0 226.0ZM630.5 205.5L632.3 205.3L633.9 204.8L633.1 205.9L632.9 207.2L632.1 205.8ZM640.0 233.4L641.1 232.7L641.1 233.8ZM700.2 184.6L701.3 183.6L702.5 182.9L703.8 182.8L705.3 183.6L705.9 182.1L707.7 182.4L708.7 181.4L710.4 181.4L709.1 182.3L708.0 183.4L706.5 183.5L705.3 184.3L704.1 185.4L702.7 184.5L701.4 184.4ZM709.0 181.3L710.7 180.0L710.4 181.3ZM713.7 180.4L715.1 179.3L716.8 179.1L716.1 180.6ZM732.8 175.8L734.6 175.9L736.2 174.9L735.1 175.7L734.1 176.5ZM684.2 200.2L686.6 199.8L685.6 200.7ZM598.6 324.8L601.3 324.1L599.9 326.0ZM602.3 325.7L603.7 325.7L603.0 326.9ZM607.1 325.7L608.8 323.5L608.8 325.1ZM609.1 322.5L610.3 321.8L610.1 322.8ZM594.9 323.2L595.7 323.2L595.4 324.3ZM597.6 309.1L599.3 309.2L598.6 309.6ZM568.4 291.2L570.4 291.4L569.4 291.7ZM559.2 288.5L560.9 289.3L559.5 289.3ZM563.3 288.0L564.1 288.4L563.6 288.4ZM575.5 370.9L576.3 372.2L575.3 372.3ZM570.1 364.6L571.2 364.6L570.7 365.3ZM573.1 372.3L573.5 372.0L573.3 372.7ZM578.0 367.7L578.9 368.1L578.2 368.6ZM685.2 411.9L686.4 412.3L685.2 413.5ZM678.1 423.9L678.9 423.9L678.4 424.8ZM802.9 465.3L803.8 466.0L803.1 467.1ZM806.5 468.0L807.2 468.5L806.5 468.7ZM809.0 469.9L809.7 470.4L809.2 471.0ZM843.9 498.9L845.6 499.6L844.5 500.5ZM851.0 496.1L852.3 496.4L851.3 497.5ZM889.7 597.5L892.4 597.2L895.5 598.9L893.1 600.3L890.1 600.0ZM905.0 612.4L906.7 612.7L905.7 613.1ZM783.7 590.4L784.9 590.8L784.1 591.0ZM831.6 589.0L833.0 589.0L832.0 589.2ZM526.9 615.9L532.0 616.6L534.4 618.7L529.6 617.3ZM367.6 347.8L373.0 344.0L377.4 343.0L382.5 343.7L387.6 345.8L392.7 347.9L397.8 350.4L403.9 353.6L401.2 354.7L392.7 354.8L394.1 352.5L390.0 351.8L389.0 349.0L384.2 348.1L378.1 346.5L374.7 345.1L370.7 347.2ZM403.3 359.1L406.7 360.7L410.4 360.7L412.4 362.4L414.5 360.3L418.2 360.0L423.0 360.7L423.6 358.9L418.5 355.5L412.4 354.7L408.7 354.7L406.7 355.4L408.7 357.5L410.1 359.2L406.0 359.4ZM389.8 360.3L391.7 359.6L394.8 360.0L397.1 361.4L393.8 362.3L390.7 361.0ZM427.7 360.3L428.1 359.6L432.8 360.0L432.1 361.4L428.1 361.5ZM373.7 347.9L375.4 347.6L375.1 349.0ZM389.7 338.0L391.7 336.3L391.9 339.5L390.4 340.2ZM391.4 330.6L394.1 331.3L389.0 331.0ZM393.1 336.4L393.4 336.6L392.7 336.6ZM395.5 334.9L397.5 337.3L396.5 336.3ZM398.8 338.0L400.2 339.5L399.5 339.5ZM402.9 339.8L403.1 340.3L402.8 340.2ZM405.6 350.4L408.0 349.7L406.7 350.9ZM401.2 341.6L401.7 343.3L400.5 343.0ZM407.3 346.2L408.7 346.0L408.0 345.6ZM446.1 367.4L447.8 367.4L446.7 368.4ZM447.1 369.9L447.9 370.9L447.6 371.3ZM448.1 372.5L449.3 373.0L448.8 373.9ZM448.6 375.3L449.1 376.2L448.6 376.4ZM453.4 378.0L454.0 378.5L453.5 378.9ZM446.2 381.9L446.7 382.2L446.2 382.6ZM437.2 385.9L439.3 385.8L438.6 386.5ZM421.1 381.3L422.5 382.4L421.8 382.2ZM418.0 380.5L418.5 381.0L418.2 381.0ZM423.6 381.5L424.3 382.4L424.0 382.4ZM435.5 360.1L436.6 360.1L436.0 362.4ZM445.7 364.6L446.4 364.6L446.1 364.9ZM360.5 352.5L361.3 352.5L360.6 353.2ZM379.5 356.6L380.5 356.6L380.0 357.0ZM344.8 426.1L346.5 424.6L347.6 427.5L345.5 428.5ZM348.2 426.8L349.6 426.9L348.9 427.7ZM351.6 427.5L352.8 427.5L352.3 428.4ZM125.9 355.2L126.6 353.4L128.8 354.5L130.1 356.1L127.3 358.0L126.4 357.5ZM123.7 350.9L125.2 350.9L126.1 351.8L124.5 352.2ZM118.4 348.8L119.4 348.3L120.3 349.7L118.9 349.7ZM113.3 346.9L114.5 346.5L114.7 347.6L113.7 347.6ZM121.7 350.1L123.5 350.2L122.3 350.6ZM219.8 245.4L220.8 246.3L221.9 247.0L222.9 247.9L228.0 250.4L231.7 253.2L236.5 254.1L236.8 252.8L234.1 250.4L230.4 247.5L228.9 247.1L227.4 246.6L225.9 246.1L224.2 245.5L222.5 244.9L221.2 245.2ZM204.2 233.6L205.7 233.2L207.1 233.9L208.6 234.1L210.3 236.0L207.9 236.9L209.1 237.7L209.3 239.2L210.1 240.2L211.0 241.2L209.9 240.2L208.6 239.4L207.6 238.4L206.6 236.9L205.2 235.9L204.5 234.8ZM199.1 220.0L197.7 219.5L196.2 219.5L194.7 219.3L192.6 220.7L193.4 222.6L195.9 221.8L196.7 223.5L197.7 224.6L198.1 226.0L199.2 224.8L200.1 223.5L199.7 221.7ZM202.2 226.0L203.5 226.4L204.4 227.5L205.1 229.1L206.9 228.5L207.8 229.8L207.6 231.5L206.3 230.6L204.3 231.3L203.5 229.5L202.4 228.6L202.3 227.3ZM200.8 222.4L202.3 221.9L203.5 222.8L202.4 224.1L201.1 225.3L201.8 223.8ZM133.2 223.5L134.1 222.4L136.2 222.9L135.8 220.1L137.3 219.8L138.6 219.3L139.3 220.4L139.7 221.7L138.7 222.5L137.9 223.9L135.7 222.4L135.2 224.2L133.9 223.4L132.4 222.9L130.8 222.4L131.9 223.2ZM72.4 200.9L77.5 199.8L78.8 200.0L80.0 200.8L81.3 200.9L82.6 201.2L81.2 201.3L79.8 201.6L78.5 202.3L73.4 201.2ZM89.0 212.0L90.4 211.5L91.8 212.1L93.1 211.8L92.4 213.4L91.0 213.3L89.5 213.1L88.0 213.1ZM68.0 210.4L70.7 211.7L68.7 211.3ZM85.6 235.9L87.0 235.3L88.5 235.5L89.8 234.8L91.1 234.3L89.7 236.1L88.3 236.4L86.9 236.8L85.4 236.9L83.9 237.3ZM81.6 238.4L82.9 237.9L84.0 237.0L85.3 236.6L84.2 237.4L82.9 237.8ZM63.2 240.1L68.3 240.8L63.9 240.8ZM52.4 241.4L56.4 241.7L53.7 242.2ZM1242.0 237.8L1245.0 238.2L1243.0 238.4ZM77.2 222.8L78.2 222.8L77.5 223.2ZM1219.9 229.5L1220.9 230.6L1218.9 229.5ZM454.6 256.7L457.6 253.6L455.2 253.4L459.0 249.7L459.8 248.5L460.7 247.4L461.5 246.2L462.4 245.1L463.6 244.2L464.9 243.4L466.1 242.6L466.8 243.7L467.5 244.7L466.5 245.6L465.4 246.5L464.4 247.4L463.4 248.2L465.8 249.7L468.1 248.2L472.6 250.4L474.3 253.6L476.0 253.2L477.0 256.7L475.3 260.1L472.6 258.9L469.5 259.4L466.1 258.9L465.8 256.7L459.0 256.4ZM437.2 249.0L443.7 249.7L446.4 251.4L440.3 250.5ZM438.6 260.3L442.0 261.0L445.4 260.8L443.7 262.4L440.0 261.7ZM404.6 281.5L411.4 279.7L409.7 280.8L405.3 281.5ZM360.5 195.2L362.0 195.3L363.2 194.2L364.5 193.6L366.2 194.0L367.3 192.8L368.0 194.1L369.5 194.0L370.7 194.5L371.8 195.6L373.5 195.3L374.5 196.5L376.3 196.0L377.4 197.0L378.8 197.7L380.0 198.6L381.2 199.5L382.5 200.2L381.3 200.0L380.0 199.8L378.7 200.0L377.4 199.6L376.2 199.5L374.9 199.5L373.6 199.3L372.4 199.1L371.0 199.4L369.6 199.9L368.3 200.5L366.9 200.9L365.6 201.2L364.3 200.9L363.0 200.7L361.7 200.4L360.5 200.2L361.8 199.6L363.1 198.9L364.5 198.4L362.8 196.6L361.7 195.8ZM374.0 202.6L375.7 202.4L377.4 202.5L376.4 203.9L375.2 204.2L373.9 204.4L372.7 204.9L373.3 203.7ZM383.2 204.4L384.9 204.6L386.6 204.8L385.6 206.9L383.6 206.5ZM383.6 212.9L385.9 213.3L384.6 214.3ZM385.9 226.0L387.6 225.3L387.6 227.4L386.6 227.4ZM377.4 237.3L382.5 237.6L380.8 238.7L378.1 238.4ZM390.0 180.0L391.5 180.4L393.0 180.0L394.4 180.4L396.1 182.1L397.5 182.5L398.8 183.1L400.2 183.6L399.7 184.9L399.5 186.4L397.8 186.2L396.8 189.1L394.8 187.4L392.7 187.4L392.7 185.3L392.3 183.5L390.1 183.9L389.3 182.5L389.0 181.1ZM401.2 184.3L402.5 183.7L403.6 182.9L404.3 184.6L402.4 187.4ZM350.3 163.8L351.7 162.5L353.0 164.0L354.4 162.4L355.7 165.1L357.1 164.4L358.4 165.9L359.8 164.7L361.1 165.4L362.5 164.5L363.9 164.1L365.2 165.2L366.6 163.7L367.9 163.9L369.3 164.4L370.7 164.2L372.0 164.8L373.4 164.6L374.7 164.2L376.1 163.1L377.4 164.5L379.0 165.0L380.3 165.9L381.5 166.9L382.6 168.7L384.0 167.2L385.2 168.2L386.5 167.4L387.7 168.4L389.0 168.1L390.1 168.8L391.5 167.3L392.7 168.0L393.6 169.9L395.3 168.9L396.5 169.4L397.6 170.2L399.1 170.0L400.5 170.0L401.3 171.8L402.9 171.2L404.3 171.3L405.7 171.2L406.1 174.7L407.8 173.5L409.4 172.4L410.5 173.4L411.8 173.9L413.1 174.0L414.3 174.5L415.9 173.7L417.2 173.9L417.4 178.4L419.6 175.2L420.8 175.8L422.1 176.1L423.3 176.5L425.2 176.5L425.5 178.7L427.1 179.1L428.4 180.0L426.6 179.9L426.4 182.5L424.7 182.3L423.3 182.9L424.7 183.4L426.2 182.9L427.5 184.0L428.8 184.8L430.2 185.1L431.8 184.6L432.9 185.5L434.6 185.2L434.0 189.3L437.2 186.3L437.0 189.5L439.1 188.5L440.3 189.2L441.7 188.9L443.0 188.6L444.4 189.1L445.7 190.6L447.1 189.6L446.3 190.6L445.1 191.3L444.4 192.4L443.7 193.5L442.0 192.8L441.5 195.3L439.6 194.1L438.6 195.2L437.7 193.8L435.9 193.9L434.4 193.4L433.5 192.0L431.9 192.7L430.8 191.5L429.4 191.2L428.0 191.0L426.7 190.6L427.4 192.3L428.4 193.8L429.3 194.9L430.3 195.7L431.7 195.9L432.5 197.2L434.3 196.9L435.1 198.0L436.2 198.8L435.8 200.0L435.2 201.3L435.2 202.6L434.0 203.2L432.9 203.8L431.5 203.9L431.0 205.8L429.4 205.5L428.0 205.8L427.3 203.6L425.9 203.7L424.9 202.7L423.3 203.4L424.7 203.3L425.7 204.3L426.8 205.0L428.1 205.2L429.5 205.1L430.9 204.8L431.8 206.2L430.6 205.2L429.2 205.6L428.0 204.8L426.4 206.0L425.5 203.8L423.9 205.1L422.7 204.1L421.4 203.8L420.0 203.8L419.1 201.7L417.3 203.9L416.0 203.5L414.8 202.6L413.8 201.9L412.6 201.4L411.9 200.2L411.6 198.5L409.6 199.0L408.7 198.1L407.1 198.2L405.6 197.8L404.1 197.3L402.6 197.3L401.2 197.4L399.9 197.3L398.5 197.4L397.2 197.6L395.8 197.6L394.4 197.6L393.1 197.7L391.7 197.7L391.2 196.4L390.4 195.2L391.5 193.8L392.9 194.5L394.2 194.5L395.5 194.6L396.9 195.0L398.3 195.8L399.4 194.3L400.8 195.1L402.0 194.3L403.3 194.1L404.6 193.8L405.8 192.9L405.9 191.5L406.3 190.3L407.0 188.7L407.6 187.2L409.7 187.4L408.3 187.0L406.3 187.3L406.2 185.2L407.0 181.7L403.8 183.7L402.9 182.5L401.8 181.7L400.1 181.9L399.2 180.8L398.4 179.2L397.7 177.7L395.9 178.1L394.4 177.9L393.1 178.1L391.8 175.2L390.4 176.9L389.1 176.3L387.6 177.5L386.7 176.5L385.9 175.4L383.2 171.2L383.1 175.0L381.6 174.5L380.5 175.4L379.7 176.8L378.6 177.8L377.4 178.3L376.2 177.8L374.9 178.5L373.6 177.7L372.4 177.5L371.0 179.0L369.8 177.2L368.5 178.4L367.3 177.5L365.9 177.2L364.5 177.5L363.2 176.8L361.7 177.2L360.5 176.5L359.0 177.1L358.0 175.8L356.8 175.4L355.4 175.7L354.1 175.7L352.2 177.7L352.0 174.0L351.5 172.7L351.3 171.4L351.8 170.0L352.0 168.7L351.0 167.7L350.7 166.4L350.5 165.1ZM382.5 165.2L383.9 164.6L385.3 164.5L386.8 164.5L388.1 163.4L389.6 163.9L391.0 164.5L392.2 164.9L393.1 166.0L394.2 166.7L395.4 167.1L396.8 166.9L395.5 166.5L394.3 167.2L392.9 165.7L391.8 167.5L390.5 167.2L389.3 167.7L387.9 167.5L386.5 167.1L384.9 167.9L383.6 166.9ZM328.2 153.9L329.6 151.2L330.8 153.9L332.1 155.8L333.5 154.3L334.8 153.6L336.1 153.5L337.4 154.8L338.8 154.2L340.1 154.2L341.4 154.0L342.6 154.8L343.9 153.7L345.2 154.8L346.4 154.8L347.7 155.5L349.0 154.6L350.3 154.6L351.5 154.9L352.6 155.8L354.1 154.8L355.3 155.3L356.3 156.6L357.5 157.0L359.0 156.4L360.5 155.6L361.4 157.1L362.4 158.4L363.9 157.8L365.2 157.3L366.5 157.0L367.8 158.1L369.1 157.9L370.4 157.0L371.7 157.3L373.0 158.3L374.3 158.6L375.6 157.7L376.9 158.4L378.3 158.6L379.5 157.6L380.8 157.4L382.0 158.2L383.8 157.9L384.3 160.0L385.9 159.9L384.5 158.9L383.4 160.1L382.2 160.8L381.0 161.5L379.6 161.0L378.3 161.1L377.0 160.8L375.7 161.3L374.5 161.5L373.3 164.9L371.9 161.8L370.7 161.6L369.4 161.4L368.2 164.6L366.8 160.7L365.6 162.0L364.3 161.7L363.0 161.8L361.7 161.3L360.5 162.1L359.2 160.7L357.9 161.6L356.6 161.5L355.4 161.6L354.0 161.6L352.7 161.7L351.3 162.5L350.1 161.7L348.7 162.8L347.4 161.6L346.1 161.4L344.8 161.2L343.5 160.9L342.3 159.8L343.5 157.6L341.8 156.7L340.5 156.9L339.2 156.7L338.0 155.5L336.7 157.1L335.4 156.5L334.1 157.1L332.9 156.2L331.6 156.3L330.5 155.4L329.2 154.8ZM350.3 155.3L351.5 154.5L352.9 155.2L354.2 154.1L355.5 154.6L356.9 155.5L358.2 155.4L359.5 154.7L360.8 154.7L362.2 154.6L363.4 154.1L364.7 154.1L366.0 154.4L367.2 155.1L368.5 154.5L369.8 154.7L371.1 154.6L372.4 154.4L373.7 153.8L374.8 158.1L376.1 155.7L377.5 154.8L378.7 156.0L380.0 155.2L381.2 155.7L382.5 155.3L384.2 156.1L385.2 154.7L386.6 154.6L388.1 154.9L388.7 152.2L390.3 152.8L391.7 152.8L390.2 152.3L389.4 151.2L389.3 149.6L390.5 149.0L391.9 149.0L393.1 148.5L394.4 148.3L396.0 149.2L396.0 143.6L398.4 148.2L399.5 147.1L398.9 145.6L396.7 145.9L396.1 144.3L397.6 145.2L398.7 143.5L400.1 143.5L401.6 144.6L402.7 142.8L404.0 143.0L405.4 143.2L406.7 142.7L408.0 142.6L410.1 146.1L410.5 141.8L411.9 142.2L413.0 141.0L414.3 140.8L415.8 141.5L417.1 141.4L418.2 140.4L419.6 140.4L420.7 139.3L421.8 138.2L423.4 138.9L424.6 138.4L426.0 138.5L427.1 137.3L428.5 137.3L429.9 137.7L431.5 138.2L432.3 135.7L433.9 137.0L435.2 136.5L436.6 136.6L437.7 135.2L439.7 138.0L440.3 134.6L441.8 135.0L443.2 135.1L444.4 134.0L445.8 134.4L447.1 133.7L445.9 132.8L444.7 132.4L443.4 132.2L442.2 131.3L440.6 133.8L439.4 133.4L438.2 132.0L437.0 132.0L435.5 133.5L434.3 132.6L433.0 132.8L431.8 131.9L430.5 132.3L429.3 131.6L428.0 132.1L426.7 132.9L425.4 132.4L424.2 131.2L422.9 132.5L421.6 131.8L420.4 130.7L419.1 131.1L417.8 131.6L416.5 131.2L415.3 130.7L414.0 131.3L412.7 130.9L411.4 131.2L410.2 132.6L408.9 130.4L407.6 131.6L406.3 131.5L405.1 131.7L403.8 131.5L402.5 130.4L401.2 132.6L399.9 131.3L398.7 130.8L397.4 130.9L396.1 132.0L394.8 130.5L393.6 131.1L392.3 130.7L391.0 131.6L389.8 132.4L388.6 133.0L387.3 132.7L386.0 132.2L384.7 133.1L383.4 131.9L382.1 132.7L380.8 132.3L379.4 131.0L378.3 133.2L376.9 132.0L375.8 133.8L374.4 132.5L373.2 132.7L371.9 132.9L370.7 133.4L369.5 134.7L368.2 133.7L367.0 134.5L365.7 134.7L364.4 134.4L363.2 134.6L361.9 134.0L360.7 135.0L359.4 134.4L358.0 132.5L356.9 135.2L355.6 134.4L354.2 131.9L353.1 134.0L351.9 135.1L350.6 134.6L349.3 134.4L348.1 135.0L346.9 135.1L345.2 135.8L345.2 137.6L346.1 139.6L347.1 141.8L348.9 138.2L350.1 138.5L351.4 138.9L352.7 138.5L353.6 140.9L355.1 139.7L356.3 139.6L357.6 139.4L358.8 139.9L360.1 139.8L361.2 140.9L362.7 140.0L363.9 140.4L362.9 141.6L361.2 140.9L360.2 141.8L358.8 141.9L357.9 143.2L356.7 143.8L355.4 144.0L356.6 144.2L357.8 144.8L359.3 144.3L360.6 144.2L361.6 145.7L363.2 144.0L364.2 146.0L365.6 145.7L364.3 146.2L363.2 146.8L361.7 146.7L360.5 147.4L359.3 147.8L358.5 149.2L357.1 149.3L358.2 150.9L359.7 150.7L361.5 149.1L362.7 150.6L364.1 151.1L365.6 151.0L364.2 151.1L362.7 150.1L361.6 152.3L360.1 151.8L358.7 151.1L357.4 152.2L356.0 151.6L354.5 151.3L353.3 152.1L352.0 152.8L350.9 153.9ZM329.9 141.1L331.0 139.9L332.5 140.5L334.0 141.2L335.1 140.2L336.5 140.1L337.6 138.8L339.1 139.7L340.0 137.5L341.6 138.8L342.9 138.6L344.3 138.5L345.7 138.9L346.9 138.0L348.2 138.3L349.2 139.7L350.7 139.5L352.4 138.7L353.8 139.0L354.9 140.0L356.3 140.1L357.4 141.3L358.8 141.5L357.7 142.4L356.8 143.7L355.3 143.5L354.0 143.8L352.5 143.6L351.6 144.7L350.3 145.0L351.5 145.9L352.4 147.5L354.5 146.3L355.8 147.1L357.1 147.9L355.7 147.5L354.4 147.1L353.1 148.2L351.7 147.6L350.4 147.9L349.2 149.3L347.8 148.1L346.5 149.3L345.2 148.6L343.9 148.4L343.7 145.0L341.7 147.2L340.0 148.2L339.4 146.0L338.1 145.9L336.9 145.7L335.5 145.8L333.9 146.9L333.3 144.7L330.6 145.0L330.7 142.6ZM301.0 145.0L302.3 145.4L303.6 145.3L305.0 145.0L306.3 144.9L307.7 144.2L309.1 143.6L310.1 147.8L311.6 145.7L312.9 145.7L313.9 147.0L315.1 148.2L316.3 149.3L315.0 150.1L313.6 148.0L312.3 148.6L311.0 150.0L309.7 149.2L308.4 150.5L307.0 149.5L305.7 149.1L304.4 150.0L303.4 148.9L301.6 149.3L299.6 150.2L299.3 147.5L299.7 145.9ZM323.1 146.4L324.4 146.2L325.7 146.2L326.1 152.6L328.2 147.4L329.6 146.1L330.8 146.8L332.0 147.5L333.3 147.9L332.1 148.6L330.4 148.1L328.6 147.5L328.2 150.0L326.9 150.0L325.5 150.8L324.3 149.8L323.1 149.3L320.6 147.9ZM275.5 147.9L276.9 147.6L278.3 147.3L279.8 148.3L281.2 147.9L282.7 149.2L284.0 147.5L282.8 148.1L282.1 149.5L280.6 149.6L279.1 149.9L278.1 148.7L277.0 147.9ZM318.0 142.2L319.7 141.7L321.4 141.8L319.7 142.9ZM324.8 149.6L326.2 149.4L327.6 150.3L329.0 151.1L330.5 149.8L331.9 149.8L333.3 150.0L332.4 152.1L330.6 149.7L329.7 151.9L328.2 151.0L326.6 150.0ZM301.0 154.2L302.3 153.1L303.7 153.7L305.1 154.6L306.5 154.3L307.8 153.7L309.2 154.2L310.5 152.0L311.9 154.2L313.3 154.5L314.6 153.9L316.0 153.4L317.5 153.1L318.8 154.3L320.3 154.4L321.7 154.6L323.1 154.2L323.0 156.2L324.1 157.8L322.5 157.1L321.7 159.0L320.4 159.6L318.6 158.0L317.5 159.1L316.3 159.9L314.8 159.8L313.6 158.5L312.2 158.4L310.6 159.0L309.2 158.7L307.8 158.1L306.6 156.4L305.0 158.2L303.5 159.5L302.4 157.7L301.0 157.4L300.9 155.8ZM328.2 157.8L329.6 159.1L331.0 158.1L332.4 158.5L333.9 158.8L335.3 156.7L336.7 157.8L337.3 158.8L338.0 159.9L336.4 158.5L335.3 159.7L334.2 160.8L332.7 160.3L331.6 161.3L330.3 160.9L329.1 160.2L327.8 159.9ZM256.9 156.3L258.3 156.2L259.6 155.7L260.9 155.3L262.5 155.8L263.6 154.6L264.7 156.3L266.3 154.8L267.5 156.2L269.0 154.9L270.3 155.0L271.6 155.8L272.9 155.7L274.2 156.5L275.5 156.3L277.1 157.0L278.0 155.3L279.6 156.3L280.7 155.5L281.9 154.6L283.2 154.6L284.3 153.7L285.7 153.9L286.9 154.5L287.9 155.8L289.3 155.6L290.9 154.9L291.9 156.2L293.3 155.8L295.0 154.4L295.9 156.3L296.6 158.5L295.2 158.8L293.9 159.7L292.5 160.1L291.2 160.8L289.9 160.8L288.5 161.1L287.1 160.5L285.8 161.4L284.2 159.9L283.1 161.8L281.8 162.4L280.2 160.8L278.9 161.6L277.7 161.4L276.4 161.6L275.0 162.3L273.8 161.3L272.8 158.5L271.4 160.2L270.0 161.5L268.7 160.9L267.4 161.0L266.2 160.6L265.1 159.3L263.6 160.2L262.4 159.5L261.1 159.8L259.8 159.4L258.6 159.2L259.9 158.7L261.5 159.5L262.8 158.9L264.0 157.9L265.3 157.4L264.0 156.6L262.4 157.7L261.1 156.8L259.6 157.7L258.3 156.4ZM238.2 155.3L239.0 153.4L240.8 154.4L242.4 154.9L243.6 154.1L244.8 153.4L245.9 152.4L247.5 152.7L248.7 152.0L250.1 151.7L251.4 151.9L252.7 151.2L254.0 151.7L255.4 152.5L256.7 151.1L258.0 152.4L259.2 150.1L260.6 150.9L261.9 151.0L262.1 152.7L263.6 153.5L262.4 154.2L261.3 154.9L259.7 153.2L258.6 154.7L257.3 154.9L255.9 154.4L254.8 155.4L253.5 155.3L252.1 154.9L251.1 156.8L249.6 155.3L248.5 156.7L247.1 156.6L245.7 155.7L244.5 156.2L243.3 156.7L241.8 157.1L241.0 155.0L239.3 156.3ZM268.7 149.3L270.1 150.1L271.4 150.6L272.7 151.3L274.0 149.6L275.4 147.8L276.7 149.6L278.0 148.8L279.3 149.5L280.6 149.4L282.3 151.0L281.1 150.4L279.8 150.4L278.5 150.7L277.2 150.1L276.0 151.4L274.7 150.7L273.4 149.5L272.1 151.0L269.3 153.8L270.2 149.2ZM273.8 146.4L275.2 147.2L276.7 146.0L278.1 147.1L279.5 146.0L280.9 147.2L282.3 146.8L280.6 148.2L279.2 151.3L277.8 148.4L276.4 148.2L275.0 148.6L273.6 148.4L272.1 148.2ZM297.6 150.3L299.1 150.3L299.7 152.0L301.0 152.1L299.7 151.7L298.3 153.0L296.9 151.8L295.6 152.1L294.2 152.1L295.4 151.6L296.4 150.8ZM302.7 156.0L304.3 155.1L306.1 155.1L307.8 156.3L306.5 157.2L305.3 155.3L303.9 157.0ZM255.2 157.8L256.2 157.0L257.8 157.4L258.6 156.0L257.1 156.2L255.6 155.9L253.9 154.2L252.9 156.7L252.0 160.5L250.1 157.4L251.3 157.5L252.6 158.1L253.8 158.4ZM229.7 169.4L230.8 168.5L231.8 167.5L231.8 165.5L234.2 165.9L234.8 164.5L236.0 164.1L237.2 163.5L238.2 162.5L239.5 162.5L241.1 163.3L241.2 159.6L243.3 161.6L244.6 162.3L246.0 161.4L247.3 162.0L248.6 163.4L250.1 162.1L251.4 162.1L252.8 161.6L254.1 162.3L255.5 162.3L256.9 162.7L257.4 164.4L259.0 164.0L260.1 164.6L261.4 164.7L262.6 165.1L263.6 165.9L262.3 165.9L261.0 166.1L260.5 168.3L259.1 168.2L257.4 167.4L256.3 168.0L255.7 170.0L254.1 169.4L252.8 169.5L251.8 170.5L249.9 169.6L249.0 171.0L248.2 172.7L246.7 172.6L245.5 174.5L243.8 172.8L242.3 172.3L240.9 172.7L239.6 173.2L238.2 173.7L236.8 173.4L235.5 172.9L234.5 171.7L232.8 172.3L231.8 170.9L230.4 170.8ZM253.5 168.4L254.7 167.6L256.6 170.2L257.5 168.0L258.6 166.6L260.0 166.5L262.0 169.8L262.8 166.8L264.1 166.4L265.3 165.9L266.6 166.1L268.0 164.8L269.2 167.1L270.6 165.6L271.9 166.2L273.2 166.9L274.4 167.2L275.8 166.7L277.1 166.1L278.5 166.0L279.9 163.7L281.0 167.4L282.3 166.9L283.9 168.3L284.7 166.2L285.9 165.5L287.2 165.6L288.5 165.6L289.7 165.4L291.1 165.9L292.2 164.8L293.3 163.9L294.9 165.6L295.9 164.5L296.8 165.8L298.6 166.1L299.3 167.7L298.1 168.2L296.6 168.2L295.7 169.3L294.4 169.8L293.3 170.6L291.7 170.2L290.8 171.5L292.0 172.2L293.7 170.8L294.2 173.3L295.7 172.9L296.7 174.0L298.3 173.0L299.3 174.0L300.7 174.2L302.3 173.6L303.0 175.8L304.5 175.6L305.7 176.2L306.9 176.9L308.1 177.5L309.5 177.5L311.2 178.2L312.9 178.6L311.8 179.5L310.9 180.6L309.5 181.1L308.0 183.0L306.7 181.7L305.5 180.3L304.1 180.0L302.7 180.6L301.3 180.8L299.8 184.4L298.6 180.7L297.3 179.6L295.9 180.4L294.7 180.5L293.5 180.8L292.1 179.9L291.0 181.2L289.7 181.2L288.6 181.9L287.1 180.9L285.5 178.5L284.8 182.1L283.5 182.0L282.3 182.5L281.0 182.7L279.7 182.2L278.4 181.5L277.0 181.7L275.7 181.7L274.4 182.0L273.1 182.4L271.8 182.3L270.4 182.5L269.2 181.9L267.9 181.9L266.7 181.1L265.3 181.3L264.0 181.3L262.7 180.9L261.8 179.4L260.2 180.0L259.4 179.0L258.2 178.3L257.5 177.2L258.9 177.0L260.2 177.6L261.5 177.2L262.9 176.8L264.1 178.5L265.5 178.4L266.8 177.9L268.1 178.5L269.5 177.4L270.8 178.7L272.1 177.5L271.0 176.2L269.6 177.1L268.3 177.3L266.9 177.5L265.7 177.5L264.6 175.7L263.2 176.3L261.9 176.6L260.6 176.4L259.4 175.4L258.2 174.8L256.9 175.4L255.4 175.2L254.1 174.8L253.5 173.3L254.7 171.5L256.2 172.4L257.5 171.2L259.2 173.0L260.6 172.8L261.9 172.2L260.6 173.4L259.4 171.9L258.0 173.4L256.8 172.6L255.6 171.8L254.3 171.4L253.1 171.2L251.8 171.5L255.5 171.5ZM309.5 166.9L310.3 165.7L312.1 166.7L313.0 165.5L313.9 164.5L315.2 164.4L316.3 163.8L317.8 163.4L319.0 165.0L320.6 163.7L322.0 164.4L323.3 165.3L324.8 164.8L326.8 165.0L326.8 166.6L327.2 168.0L326.0 168.5L324.4 168.3L323.6 169.3L322.9 170.7L321.7 171.2L320.5 171.5L319.7 172.6L318.4 172.8L317.1 172.6L315.9 172.3L314.9 171.0L313.6 171.1L312.4 170.9L311.2 170.5L312.1 169.3L313.7 168.9L314.6 167.7L313.1 169.4L312.0 167.7L310.9 166.2ZM331.6 163.4L332.9 161.8L334.5 164.2L335.8 163.2L337.2 162.9L338.6 162.6L340.1 163.1L341.7 162.1L343.0 163.0L344.4 163.5L345.2 167.0L347.2 164.3L348.6 164.5L346.9 164.9L345.9 166.1L345.2 167.8L343.5 168.0L341.9 167.1L341.0 168.6L339.6 168.3L338.4 168.6L337.2 168.9L335.5 167.6L335.0 170.5L334.0 169.3L333.0 168.3L331.6 167.7L333.1 166.2L329.2 164.8ZM318.0 180.4L319.4 180.2L320.8 179.8L321.9 178.9L323.1 178.3L324.6 177.7L325.8 178.7L327.2 178.6L328.3 180.4L329.9 179.3L330.8 180.5L331.6 181.8L330.4 182.9L328.9 182.6L327.5 182.2L326.2 183.3L324.8 182.9L323.3 183.3L322.4 181.6L321.1 181.5L319.7 181.4ZM294.2 165.2L295.6 164.7L296.9 165.6L298.3 164.6L299.7 164.3L301.0 165.2L300.2 166.2L299.3 167.3L297.9 167.2L296.9 165.9L295.6 165.5ZM365.6 191.7L367.0 192.5L368.2 191.7L369.3 190.9L370.7 191.0L371.3 192.4L369.9 191.7L368.9 193.4L367.5 192.7L366.2 193.1ZM69.0 474.2L71.0 474.2L70.2 472.4ZM71.9 474.8L73.6 474.8L72.9 473.3ZM75.6 475.9L76.6 475.9L76.2 475.0ZM147.1 488.1L149.2 488.1L148.4 486.3ZM141.2 484.4L142.2 484.4L141.8 483.5ZM60.2 500.4L61.5 500.4L61.0 499.2ZM64.4 491.1L65.4 491.1L65.0 490.2ZM55.4 580.9L57.4 580.9L56.6 579.1ZM219.8 511.6L220.6 511.6L220.2 510.8ZM197.3 507.0L198.2 507.0L197.8 506.2ZM53.0 325.6L53.8 325.6L53.5 324.9ZM120.6 418.8L122.1 418.8L121.5 417.5ZM179.4 457.0L180.8 457.0L180.2 455.8ZM183.2 460.1L184.4 460.1L183.9 459.0ZM112.6 500.3L113.7 500.3L113.3 499.4ZM78.2 492.8L79.5 492.8L79.0 491.7ZM283.9 521.2L284.9 521.2L284.5 520.3ZM161.3 481.9L162.1 481.9L161.8 481.1ZM177.0 489.2L177.7 489.2L177.4 488.6ZM50.7 475.8L51.3 475.8L51.1 475.2ZM57.1 472.3L57.8 472.3L57.5 471.7ZM1112.1 399.0L1113.6 399.0L1113.0 397.7ZM1124.7 391.7L1125.5 391.7L1125.2 391.0ZM1147.1 378.0L1148.6 378.0L1148.0 376.7ZM1150.6 371.6L1151.6 371.6L1151.2 370.7ZM1171.2 399.2L1172.2 399.2L1171.8 398.3ZM1192.7 401.1L1194.1 401.1L1193.5 399.9ZM1209.3 406.6L1210.1 406.6L1209.8 405.8ZM1225.3 394.5L1226.1 394.5L1225.8 393.8ZM1237.2 400.2L1238.0 400.2L1237.6 399.5ZM1242.9 420.3L1243.7 420.3L1243.4 419.6ZM1222.6 427.0L1223.3 427.0L1223.0 426.4ZM1264.4 455.3L1265.1 455.3L1264.8 454.7ZM1231.2 494.4L1232.4 494.4L1231.9 493.3ZM1233.8 496.7L1234.6 496.7L1234.3 496.0ZM1226.0 527.8L1226.7 527.8L1226.4 527.2ZM1196.1 536.8L1196.8 536.8L1196.5 536.2ZM72.1 457.7L72.7 457.7L72.4 457.2ZM108.8 462.0L109.4 462.0L109.1 461.5ZM119.3 500.2L120.0 500.2L119.7 499.6ZM435.6 311.1L436.5 311.1L436.1 310.4ZM636.3 481.6L637.0 481.6L636.7 481.0ZM606.9 453.4L607.6 453.4L607.3 452.7ZM613.9 556.4L614.6 556.4L614.3 555.8ZM622.0 567.7L622.7 567.7L622.4 567.1ZM556.2 497.7L556.7 497.7L556.5 497.2ZM545.6 438.9L546.3 438.9L546.0 438.3ZM565.6 631.7L566.3 631.7L566.0 631.1ZM844.1 441.7L844.9 441.7L844.6 441.0ZM905.4 410.4L906.0 410.4L905.7 409.9ZM904.0 427.3L904.6 427.3L904.4 426.8ZM901.6 451.1L902.3 451.1L902.0 450.5ZM984.7 468.1L985.3 468.1L985.1 467.7ZM1014.6 462.2L1015.2 462.2L1015.0 461.6ZM871.0 494.9L871.7 494.9L871.4 494.3ZM919.1 559.0L919.8 559.0L919.5 558.4ZM1195.4 618.3L1196.2 618.3L1195.9 617.6ZM1219.7 604.6L1220.8 604.6L1220.3 603.7ZM1230.1 611.0L1230.8 611.0L1230.5 610.4ZM282.5 388.7L282.9 388.7L282.7 388.4ZM360.1 405.7L360.5 405.7L360.3 405.3ZM383.7 518.1L384.1 518.1L383.9 517.8ZM387.8 544.2L388.5 544.2L388.2 543.6ZM1184.9 247.7L1186.3 247.7L1185.7 246.5ZM1180.9 251.2L1182.1 251.2L1181.6 250.1ZM1175.8 255.8L1177.0 255.8L1176.5 254.7ZM1171.7 259.3L1173.0 259.3L1172.5 258.1ZM1168.4 260.6L1169.5 260.6L1169.0 259.7ZM1158.1 265.7L1159.4 265.7L1158.9 264.5ZM1154.5 268.2L1155.5 268.2L1155.1 267.3ZM1151.8 270.2L1152.8 270.2L1152.4 269.3ZM1218.9 230.7L1220.2 230.7L1219.7 229.5ZM1224.6 231.6L1225.4 231.6L1225.1 230.9ZM55.2 242.5L56.9 242.5L56.3 241.0ZM50.8 242.4L51.8 242.4L51.4 241.5ZM61.0 241.2L62.0 241.2L61.6 240.3ZM69.5 240.5L70.5 240.5L70.1 239.6ZM76.0 239.1L77.0 239.1L76.6 238.2ZM1264.4 243.8L1265.8 243.8L1265.2 242.6ZM1258.5 241.7L1259.5 241.7L1259.1 240.8ZM1243.7 238.5L1245.0 238.5L1244.5 237.3ZM93.1 234.3L94.5 234.3L93.9 233.0ZM112.0 230.9L113.0 230.9L112.6 230.0ZM113.8 231.5L114.5 231.5L114.2 230.9ZM105.3 232.2L106.0 232.2L105.8 231.6ZM451.5 608.4L452.9 608.4L452.3 607.2ZM566.4 631.6L566.9 631.6L566.7 631.2ZM500.6 639.6L501.6 639.6L501.2 638.7ZM533.3 617.6L534.1 617.6L533.8 616.9ZM754.9 279.4L751.1 276.9L749.4 274.8L750.9 272.3L753.2 271.6L753.3 268.8L756.9 265.9L758.6 263.1L760.5 260.6L763.0 260.3L764.7 261.3L766.7 262.0L770.1 262.6L766.4 264.7L769.3 265.2L769.5 267.3L770.6 268.0L772.0 267.7L776.3 265.9L779.7 265.2L776.3 264.5L774.9 263.5L774.2 261.9L781.0 259.7L783.6 258.7L788.1 258.1L789.5 258.5L785.9 259.9L784.4 262.4L783.0 264.9L780.7 265.2L782.7 266.3L784.4 267.0L788.7 269.1L790.9 270.9L795.3 273.0L797.5 276.0L797.3 277.8L793.6 279.9L790.9 280.1L786.4 280.2L784.7 280.1L779.5 279.0L778.3 277.6L775.4 276.4L770.6 276.6L766.1 277.4L764.0 278.5L762.7 279.0L758.9 279.4Z" fill="#e6e6e6" stroke="#000" stroke-width=".95" stroke-linejoin="round" fill-rule="evenodd"/>
<path d="M177.0 178.8L177.0 211.8L183.5 212.5L188.9 216.6L192.6 214.7L196.7 214.0L202.5 218.2L207.6 223.5L214.1 226.7L214.4 229.9L214.1 230.6M238.8 251.8L332.8 251.8L332.8 250.5L334.6 252.8L340.1 253.2L345.2 255.1L352.0 255.3L355.7 254.3L367.9 259.2L369.0 260.6L372.0 263.1L375.7 264.9L376.1 273.0L375.7 274.4L373.7 276.2L375.7 277.6L387.6 273.7L387.5 272.1L387.6 271.4L395.1 270.9L396.8 268.8L401.2 265.9L413.1 265.9L415.5 264.5L417.2 262.7L418.2 259.9L420.9 257.3L424.3 257.6L425.7 258.7L425.7 263.5L426.9 264.9L428.4 265.9M258.2 310.1L266.4 309.4L266.0 310.1L278.9 314.2L288.4 314.2L288.4 312.7L294.2 312.7L299.3 316.8L301.0 320.2L305.4 322.5L307.8 319.8L311.5 319.8L315.3 325.0L318.0 327.8L319.4 331.7L325.8 333.1M342.8 373.7L343.1 371.6L344.5 368.3L348.7 368.2L348.2 366.7L345.5 364.0L346.9 364.0L346.9 362.0L353.2 362.0L354.3 361.4L356.0 359.7M353.2 362.0L353.0 368.8L354.0 368.8M356.2 369.5L353.0 372.3L352.5 374.0L349.9 376.4M352.5 374.0L355.4 375.7L357.7 375.9L357.7 377.6M359.4 379.0L361.3 378.0L361.3 376.4L364.9 375.7L367.3 373.4L369.0 373.0L373.5 372.0M364.9 385.9L368.3 385.9L371.0 387.0L371.8 386.3M375.6 391.2L374.4 392.8L374.6 393.9L374.4 396.5M412.3 355.4L412.4 358.5L411.6 359.2L412.3 361.2M413.6 383.3L410.4 385.8L408.4 388.2L408.4 392.8L410.1 395.3L409.9 398.8L411.4 400.3L417.9 400.3L420.2 403.4L426.9 403.1L425.7 406.3L425.5 409.1L427.4 413.0L425.7 415.1L427.7 416.9L428.7 420.8M428.7 420.8L428.1 419.0L425.0 418.8L418.7 419.0L418.7 421.1L420.9 421.5L420.2 422.7L418.0 423.1L418.0 425.5L420.2 428.9L418.4 439.8M418.4 439.8L415.8 438.4L418.0 434.5L408.4 433.7L407.3 432.1L401.9 425.7L400.2 425.4L396.8 423.6L393.1 423.6L388.1 420.1M400.2 425.4L400.5 428.4L399.2 430.3L395.5 434.2L391.7 435.6L389.7 437.0L388.7 441.1L387.6 442.7L385.6 440.7L382.9 440.7L383.2 437.2M418.4 439.8L415.5 439.8L408.4 443.0L407.3 446.2L404.6 451.2L408.2 457.2L410.7 460.4L416.2 458.6L416.2 463.9L419.7 463.7M419.7 463.7L422.6 469.2L421.6 472.7L421.6 477.3L420.2 480.3L421.6 482.3L419.9 486.9L417.2 489.9M419.9 486.9L421.3 489.3L423.3 493.9L422.5 497.1L424.3 501.0L425.5 505.8L428.4 506.3M419.7 463.7L424.7 462.8L429.8 460.0L433.8 459.3L434.2 463.5L434.2 466.7L437.2 469.2L441.6 469.7L446.1 472.7L450.5 473.8L451.5 479.8L451.5 482.4L457.6 482.6L458.0 486.2L460.7 489.3L459.7 492.2L458.5 495.0L458.3 496.2M458.3 496.2L455.2 493.2L446.2 494.5L443.2 503.7L438.9 502.8L437.6 505.8L434.5 503.1L431.1 502.1L428.4 506.3M428.4 506.3L427.4 509.8L423.6 511.6L423.3 518.0L419.9 525.0L418.2 531.0L416.5 536.4L418.2 542.7L418.9 546.3L416.9 552.3L414.5 557.6L415.2 561.8L412.8 566.4L411.8 571.7L412.1 578.1L412.8 583.0L413.1 587.6L411.4 591.9L410.1 596.4L407.0 600.0L408.0 604.2L410.4 605.3L410.4 608.5L411.8 608.8L418.2 608.8L423.5 610.1M423.0 611.1L423.0 619.1M443.2 503.7L448.8 509.1L455.6 512.0L460.3 514.6L456.9 521.2L464.4 521.9L466.8 521.5L470.5 515.5M458.3 496.2L459.5 498.9L459.5 503.1L466.4 503.8L467.1 506.3L467.8 509.8L471.5 510.0L470.5 515.5M470.5 515.5L473.6 517.6L473.2 521.0L466.4 525.4L460.3 531.8L465.8 534.2L467.1 534.1L472.6 537.8L475.3 540.6L474.6 544.3M460.3 531.8L458.3 538.1L457.6 545.2M428.7 420.8L433.5 422.2L437.9 419.7L440.6 417.2L438.6 416.2L436.9 410.5L442.7 411.9L443.0 410.7L448.8 409.1L449.8 406.6M449.8 406.6L447.4 404.0L448.4 401.3L451.2 399.9L449.8 398.5L452.9 395.7M449.8 406.6L452.2 407.3L452.3 409.1L453.9 411.2L452.5 416.9L455.6 420.4L459.0 419.7L464.1 418.3L466.1 418.5L470.5 416.9L473.2 416.9L476.3 417.2L479.4 413.3L480.5 410.2M464.1 418.3L461.4 413.3L459.0 410.9L459.3 408.0L461.7 406.3L461.9 404.0M470.5 416.9L471.9 414.4L471.2 410.9L471.0 407.3L472.6 404.5M625.9 276.9L628.1 276.2L628.5 277.2L633.6 276.7L634.9 277.9L632.6 280.1L632.6 282.5L632.2 284.7L630.5 284.8L632.2 287.1L631.2 289.3L632.2 290.0L630.5 292.3L630.9 293.5M649.9 271.6L651.2 272.8L653.6 273.3L658.4 274.1L660.9 274.4L661.8 274.8L666.7 274.9M681.5 270.3L682.0 268.9L679.4 268.0L679.8 265.2L679.1 263.1L679.9 262.7L679.1 261.0L676.7 261.5L676.4 261.9L676.7 260.6L679.4 257.8L681.8 256.7L681.8 254.6L683.9 251.8L677.7 250.2L675.7 249.8L672.6 249.0L672.3 247.7L670.3 248.4L669.9 247.2L666.9 245.6L664.8 245.2L664.7 244.4M667.4 243.4L670.4 243.4L673.0 243.1L675.9 244.2L675.4 245.4L676.4 245.6L677.4 247.2L676.7 247.9L678.1 249.0L677.7 250.2M675.7 249.8L676.7 247.9M676.4 245.6L677.1 243.3L676.4 241.9L679.1 241.4L679.9 240.3L679.8 238.9L680.5 236.9M685.4 230.9L688.3 231.3M704.4 234.5L704.9 236.6L704.1 238.2L705.6 239.1L706.1 241.0L706.8 242.9L707.0 245.1L704.6 244.7L703.6 245.4L700.2 246.7L697.4 247.2L698.5 248.6L699.5 250.5L702.9 252.7L701.5 253.9L699.5 254.8L700.2 257.1L697.4 256.6L693.4 257.4L691.5 256.9L688.6 256.9L685.2 256.4L681.8 256.7M688.6 256.9L688.4 258.7L691.5 259.2L691.5 260.4M679.9 262.7L682.7 262.6L684.7 260.8L686.4 262.9L687.6 260.8L690.3 261.5L691.5 260.4L693.4 259.6L697.3 258.7L698.1 259.9L702.5 260.6L701.9 262.4L702.7 263.6M702.5 260.6L705.3 261.0L709.2 259.9L710.7 259.4L711.9 257.3L714.1 255.5M702.9 252.7L705.9 253.2L707.0 251.8L710.7 252.7L713.6 253.2L714.3 255.3L716.5 256.2L719.9 256.0L722.6 254.6L725.6 253.4L729.0 253.6L731.2 253.9L732.6 251.4M707.0 245.1L709.7 245.6L711.4 246.0L711.0 246.8L712.7 247.9L713.7 246.8L716.1 247.2L717.1 248.2L720.0 250.0L717.5 251.4L714.4 252.3L713.6 253.2M720.0 250.0L722.2 249.8L724.3 251.1L727.3 250.4L732.6 251.4L733.1 249.7L736.5 246.8L737.9 245.2L736.2 242.9L736.2 240.8L734.8 240.1L737.2 238.7L735.8 234.5L733.5 232.9L722.6 232.5M733.5 232.9L733.1 230.8L728.4 229.7M735.8 234.5L738.9 234.5L742.6 233.0L743.6 230.9L746.4 229.5L746.4 228.1L751.6 226.5L750.1 222.1L748.9 221.6L750.4 220.5L749.1 217.5L750.1 216.4L751.1 214.8M727.5 226.8L730.7 225.6L740.6 225.6L746.4 228.1M738.7 220.4L741.9 220.0L746.0 221.7L748.9 221.6M751.6 226.5L761.0 228.5L760.6 231.3L764.0 234.1L767.1 236.2L762.7 236.9L764.0 240.8M736.2 242.9L740.9 241.5L748.4 242.6L755.5 243.3L759.6 243.7L761.0 241.0L764.0 240.8L770.8 239.9L776.3 244.7L776.9 246.8L783.4 246.8L788.1 249.0L792.2 249.7L790.9 255.9L785.8 258.5M731.2 253.9L733.8 255.3L740.6 256.2L746.4 254.4L749.4 253.7L751.8 254.8L754.9 255.5L756.6 259.0L758.2 261.0L754.3 260.8L751.8 264.3L756.7 264.7M746.4 254.4L749.8 257.8L751.8 260.3L751.8 264.3M733.8 255.3L728.0 261.0L724.8 261.9L720.2 262.6L715.8 262.6L712.1 260.6L710.7 259.4M702.2 264.2L705.6 263.6L708.0 264.2L709.2 261.7L712.1 260.6M720.2 262.6L720.5 266.5L713.4 265.0L709.7 265.2L709.5 266.6L711.0 268.8L715.8 272.6L718.7 274.6M720.5 266.5L721.9 268.6L721.2 271.1L719.4 272.3L718.7 274.6M724.8 261.9L728.7 265.2L728.7 266.6L732.3 267.0L732.9 268.8L732.1 270.2L734.1 272.3L732.1 275.5L734.0 278.8M732.9 268.8L734.1 270.2L739.2 270.3L743.0 270.7L747.7 268.9L753.2 270.3M721.2 271.1L725.1 273.5L724.1 274.6L721.9 277.1M725.1 273.5L726.7 272.1L729.0 273.3L729.4 275.6L732.1 275.5M724.1 274.6L725.8 275.8L726.0 277.1L729.4 275.6M726.0 277.1L725.6 279.0L726.5 280.4L727.3 280.6L726.3 282.5L723.9 284.7M727.3 280.6L730.7 279.5L734.0 278.8L739.2 278.1L741.9 279.2L745.5 277.6L748.7 276.2L751.3 276.6M745.5 277.6L746.4 278.8L744.5 280.9M693.7 216.4L696.1 214.0L698.5 211.8L697.8 209.4L697.4 206.9L697.4 202.3L696.8 201.2L703.2 198.8L703.9 197.0L702.5 196.6L705.3 194.2L705.6 191.3L708.7 190.6L711.7 187.4L710.7 186.4L714.8 184.3L717.5 182.9L724.3 183.0L725.8 180.9M738.0 192.4L736.5 189.9L737.2 188.2L735.8 186.4L736.2 184.8L730.1 182.7L725.8 180.9L728.4 180.0L732.1 182.1L736.5 181.8L740.9 182.3L743.6 181.1L744.3 178.6L750.8 177.2L754.9 178.6L754.2 180.9L758.2 178.8L760.8 178.3M754.2 180.9L752.8 183.9L757.9 185.7L754.9 188.5L758.2 192.8L756.9 195.9L759.6 198.4L757.9 199.8L763.0 202.6L757.2 208.3L750.4 211.0M631.4 230.4L629.2 231.6L628.3 232.5L631.2 233.6L633.6 233.9L634.8 233.8M611.2 327.2L626.5 327.2L626.5 333.1L615.2 333.1L615.2 342.1L611.8 343.7L611.8 349.6L598.4 349.6M648.5 300.9L650.1 302.2L650.2 305.9L652.3 310.1L651.8 311.5L645.8 312.6L643.6 316.5L639.0 318.9L633.9 320.4L626.5 323.5L626.5 327.2M626.5 328.5L639.6 336.6L633.7 336.6L635.7 352.0L637.3 366.7L638.0 367.4L637.0 370.2L624.2 370.2L619.7 370.6L616.9 369.9L615.9 372.3L614.4 372.9M599.9 368.3L605.0 366.1L608.4 367.4L610.5 368.3L612.5 371.3L614.4 372.9L615.2 376.6L617.3 379.2L617.3 381.2L614.2 381.5L609.5 380.3L603.3 380.3L599.3 381.3M599.8 376.9L603.3 376.9L605.0 376.2L607.4 377.3L609.1 377.3L609.1 378.0L605.0 378.0L602.3 378.5L599.1 378.9M609.5 380.3L609.5 383.6L606.1 384.3L605.0 386.3M610.8 393.0L613.5 390.0L618.0 389.6L620.0 392.1L621.0 395.0L623.7 395.3L624.4 398.5L627.1 398.1M621.0 395.0L619.7 397.8L616.9 400.4M617.3 381.2L621.0 381.9L624.4 381.2L625.8 382.2L627.8 385.1L628.8 388.9L629.8 391.8L628.1 395.0L627.1 398.1L627.8 402.0L630.5 404.1L630.4 409.6M628.8 388.9L634.9 387.5L637.3 388.2L638.0 383.3L641.1 380.1L645.1 376.6L649.2 374.8L653.6 371.8L656.7 372.0L660.4 370.9L667.9 370.6L670.3 365.3L670.4 357.3L667.2 357.8L666.9 355.0L662.1 353.2L659.9 350.4L639.6 336.6M670.4 357.3L675.7 356.2L696.7 341.9L687.9 332.4L689.6 331.3L689.6 325.0L688.3 318.2L686.7 311.5L684.4 310.1L681.5 305.5L683.9 302.3L684.2 297.0L685.2 294.4M688.3 318.2L690.8 315.8L691.0 312.9L695.2 310.5L695.2 307.8M696.7 341.9L704.2 345.1L707.0 343.7L710.4 342.1L737.5 356.1L737.5 354.3L740.9 354.3L740.9 347.2L740.9 321.8L739.9 318.2L741.4 313.5M740.9 347.2L781.3 347.2M707.0 343.7L708.7 350.8L709.0 354.7L708.7 365.3L701.9 373.7L702.2 376.6L698.5 378.7L692.3 377.8L688.6 379.8L682.5 378.0L679.4 379.0L674.7 375.9L669.9 377.3L668.2 383.6L665.7 381.2L664.2 381.7L663.3 382.9L663.5 380.1L659.2 377.6L657.4 375.5L656.7 372.0M663.3 382.9L659.1 386.1L655.5 385.8L646.4 386.1L646.7 391.4L647.5 396.0L645.1 401.0L646.5 406.3L645.5 407.0M637.3 388.2L640.4 390.7L645.8 390.0L646.7 391.4M655.5 385.8L656.0 387.5L657.4 389.6L657.7 393.9L658.0 398.8L657.7 400.6L660.1 403.3M659.1 386.1L658.7 388.2L660.8 392.1L661.6 402.9M668.2 383.6L668.9 388.2L665.5 392.8L665.2 397.1L665.2 402.4M685.2 408.0L687.3 402.7L690.6 400.6L694.4 401.7L696.4 398.8L697.6 395.3L699.5 393.9L702.9 386.1L705.6 384.3L704.2 381.2L704.2 379.8L702.2 376.6M704.2 379.8L707.3 382.6L707.3 386.1L708.7 389.6L704.2 389.6L703.4 391.1L708.3 398.3L705.3 403.1L705.9 408.7L710.7 414.9L711.0 417.2L710.7 419.0L705.3 417.4L701.2 417.2L694.6 417.2L689.3 416.9M694.6 417.2L694.6 421.5L689.3 421.5M701.2 417.2L700.8 420.6L704.2 420.1L705.1 426.8L703.2 430.3L704.9 432.1L703.6 433.8L698.5 433.1L696.8 435.3L695.4 433.5L696.4 437.4L693.7 439.0M711.0 417.2L712.4 412.6L719.2 412.6L717.5 416.9L716.8 421.5L716.1 426.8L711.0 432.1L710.4 437.4L707.6 440.6L704.9 442.1L701.5 442.0L700.5 441.3L698.8 442.7L696.8 442.7M698.8 442.7L697.4 445.3M698.1 446.2L712.4 445.9L713.7 450.8L715.8 453.6L721.9 453.3L722.2 449.7L730.1 450.8L730.1 458.6L731.8 464.6L737.5 463.5L737.5 471.0L730.7 471.0L730.7 482.3L735.5 487.2M695.9 486.0L700.2 485.1L703.6 486.5L718.5 486.5L723.9 488.1L735.5 487.2L741.8 487.9L736.2 490.4L727.3 489.7L727.3 502.8L723.9 502.8L723.9 512.5L723.9 525.4L720.5 527.2L715.1 526.5L711.9 526.1M723.9 512.5L726.7 519.7L730.7 519.0L734.1 514.4L742.6 515.8L747.4 509.8L755.7 503.5L750.1 497.5L745.0 492.2L741.8 487.9L747.7 488.5L753.8 483.3L759.3 480.1M755.7 503.5L762.3 504.2L766.1 500.3L768.1 495.0L767.1 491.8L768.1 486.5L764.7 483.0L759.3 481.6L759.3 480.1L758.6 477.3L768.8 474.5M762.3 504.2L764.7 511.6L764.5 516.7L761.3 516.9L760.6 519.7L762.3 521.5L765.0 519.9M764.5 516.7L765.0 519.9L767.8 519.9M747.7 529.6L751.1 526.5L754.5 527.2L755.9 529.3L754.9 531.0L751.8 533.2L749.1 532.1L747.7 529.6M768.8 474.5L767.1 473.1L768.1 469.2L769.1 465.7L769.1 460.4L767.9 458.2L771.5 458.6L773.2 460.4L773.5 465.8L772.9 468.1L773.5 472.7L777.8 477.0L777.6 481.6L775.9 485.4L772.9 482.6L773.2 476.6L768.8 474.5M773.5 465.8L780.0 466.4L784.4 464.9L786.8 465.3L793.4 462.1M767.9 458.2L761.3 455.4L760.5 454.0M737.5 463.5L738.9 465.3L742.3 464.9L744.3 467.1L747.7 466.7L749.4 468.5L752.8 470.2L754.5 472.4L757.2 472.4L757.2 467.8L754.5 468.8L752.5 466.7L753.2 462.1L753.2 457.9L754.2 455.0L760.5 454.0L756.6 447.3L755.9 440.7L755.2 435.6L754.5 434.5L755.2 430.7L756.6 429.8L756.6 426.8L757.7 422.2L762.3 417.4L760.6 416.5L760.6 412.6M755.9 440.7L759.3 438.1L760.6 436.7L759.6 433.5L760.8 430.8L759.6 428.7L771.5 428.5L783.7 435.6L784.1 437.4L789.2 441.4M754.5 434.5L757.6 434.5L759.6 433.5M756.6 429.8L759.6 428.7M771.5 428.5L771.2 424.6L773.2 421.1L774.9 418.3L772.9 412.6L771.5 410.2L768.1 411.2L764.4 412.3L760.6 412.6L756.2 408.7L752.5 409.8L749.1 407.0L742.6 406.3L738.9 407.0L733.8 408.0L732.1 410.3L725.6 409.4L722.2 407.0L719.2 409.8L719.2 412.6M771.5 410.2L775.9 407.3L778.0 408.7L781.3 409.3L785.4 412.3L790.2 413.0L794.6 410.2L798.3 411.0L795.3 415.1L795.3 428.0L797.3 430.8M798.3 411.0L801.7 409.8L804.4 407.7L808.9 407.5L818.9 396.7L815.5 396.7L805.5 393.4L802.1 390.0L801.6 386.3L802.9 384.5M801.6 386.3L798.0 385.9L797.8 384.3L800.0 381.0L802.4 380.1M800.0 381.0L795.3 376.2L792.2 373.9L788.5 373.2L784.7 372.5L780.2 374.6L779.8 371.6L781.7 364.7L787.1 361.4M780.2 374.6L778.8 380.1L775.2 383.3L774.7 386.6L772.5 387.5L771.8 391.4L771.8 394.6L768.1 397.1L773.9 401.3L775.9 405.9L775.9 407.3M771.8 391.4L768.8 387.2L768.8 381.9L767.1 382.6L764.7 382.6L766.1 386.1L762.3 390.4L757.9 388.6L754.5 391.1L751.1 391.9L746.0 391.4L740.9 388.6L737.5 394.2L735.7 393.4L733.8 386.5L731.4 380.1L730.1 379.8L732.4 375.2L734.1 369.5L737.5 369.5L737.5 356.1M733.8 386.5L729.7 387.5L725.3 392.8L720.5 393.2L720.2 393.9L713.7 398.0L708.3 398.3M735.7 393.4L738.2 395.7L741.6 398.5L745.7 401.7L749.1 407.0M778.0 298.1L779.7 297.0L780.7 294.9L785.1 294.7L794.6 293.9L799.9 293.9L808.2 293.7L806.8 289.6L805.5 285.7L808.2 284.7L804.3 283.2L804.1 279.7L800.4 278.5L797.1 278.2M791.9 271.6L800.4 272.3L804.8 274.4L809.5 274.4L813.6 276.9L816.7 279.0L818.7 279.4L821.1 277.1M804.1 279.7L808.9 279.2L813.6 276.9M808.9 279.2L810.9 280.8L812.3 284.7L814.1 287.5L819.1 284.7L820.2 285.7L819.1 287.5L822.1 289.1M808.2 284.7L812.6 287.7L814.1 287.5M808.2 293.7L810.2 297.7L812.9 298.8L810.6 302.7L812.9 307.3L818.0 310.5L818.0 315.4L820.9 319.1M799.9 293.9L796.0 296.3L796.3 299.2L794.9 303.4L787.8 307.1L789.2 311.3L793.2 312.1L799.0 315.1L807.8 321.8L814.1 322.1L817.2 318.9L819.1 318.9M814.1 322.1L817.4 324.1L820.6 324.3M787.8 307.1L781.0 310.8L777.4 309.2L777.8 306.9L780.3 304.1L779.7 302.7L778.1 302.5M775.2 308.0L777.8 306.9M777.4 309.2L776.8 310.5L776.6 313.6L776.3 315.4L774.9 320.5M776.8 310.5L774.9 310.8L774.9 314.0L776.6 313.6M772.3 314.4L774.6 320.7M789.2 311.3L781.7 313.6L785.1 317.2L783.4 318.9L780.8 319.5L778.6 321.8L774.9 321.2M801.2 367.0L802.8 363.5L805.5 363.5L813.6 364.0L815.7 364.9L819.7 360.7L822.8 359.2L832.6 357.8L842.8 354.3L845.2 347.2L843.5 344.8L834.7 343.9L831.3 339.5M843.5 344.8L845.6 339.5L846.2 337.0L847.4 336.8M846.6 332.9L847.3 334.5M832.6 357.8L836.4 366.1M828.6 337.5L829.9 338.0L831.3 338.0M821.1 277.1L824.2 273.3L829.9 279.2L830.9 283.2L829.2 287.5L825.2 288.5L822.1 289.1M829.2 287.5L834.3 290.0L839.1 291.7L839.1 293.0M839.1 293.0L842.2 292.6L846.2 290.3L850.3 289.8L854.4 291.9L857.4 292.4L859.8 294.4L863.7 295.4L863.9 299.0L861.7 303.0L861.5 306.0L862.9 306.4L861.7 308.5L862.7 313.6L865.6 314.0L865.9 315.9L862.8 319.4L865.9 323.7L869.3 325.1L869.3 328.7L871.0 329.0L870.7 330.8L866.1 332.2L865.3 335.9M862.8 319.4L868.3 321.1L874.1 320.7L881.2 319.3L881.6 315.6L886.3 314.0L887.7 312.6L891.4 312.1L891.4 308.0L894.8 307.1L893.5 304.8L897.5 303.4L899.4 300.6L898.0 297.4L902.3 294.9L907.5 294.7L910.4 293.3M863.9 299.0L867.6 300.2L870.7 298.3L875.1 296.7L876.8 293.3L882.1 293.0L886.3 293.5L888.0 293.9L891.4 293.7L894.3 292.3L894.8 290.3L898.4 289.8L899.1 294.2L898.9 295.3L905.0 292.6L910.4 293.3M882.1 293.0L881.9 290.7L876.8 287.5L870.0 283.6L868.0 283.6L866.3 279.7L860.2 278.7L859.8 275.8L855.1 273.9L852.3 275.8L849.6 279.0L846.2 279.0L844.5 278.7L841.1 275.8L837.4 275.1L833.7 276.5L829.9 279.2M846.2 279.0L846.2 265.9L855.1 263.8L863.2 268.0L866.6 271.2L876.5 270.5L880.5 273.0L880.2 276.5L881.9 276.9L887.0 279.7L890.4 278.7L894.5 276.5L897.0 275.6L899.9 273.7L905.7 274.9L906.0 272.8L908.1 272.3L913.5 273.3L924.7 273.7L928.4 275.8L922.7 278.3L917.2 280.1L914.2 282.2L910.1 282.0L906.7 284.3L906.2 285.5L907.0 288.9L910.3 289.1L910.4 293.3M906.2 285.5L899.9 286.1L895.5 285.0L891.4 285.2L892.4 283.2L895.5 283.6L896.0 282.9L899.9 282.9L904.3 280.6L901.3 279.9L897.2 279.4L898.5 278.1L894.5 277.9L897.0 275.6M886.3 293.5L887.0 290.0L887.7 287.5L885.0 286.1L889.0 285.2L888.7 283.2L891.4 281.1L895.1 279.9L896.0 282.9M824.2 273.3L820.8 268.4L821.8 264.9L825.0 262.6L822.5 260.6L821.1 257.4L816.7 256.4L814.3 253.9L815.7 251.1L815.0 250.5L816.7 247.2L821.4 248.4L821.8 246.1L828.6 242.2L834.0 242.9L837.7 243.3L841.1 244.7L845.2 246.1L847.9 244.4L854.0 244.4L855.1 241.9L859.5 245.2L864.6 245.4L865.3 243.7L859.8 241.4L863.2 239.9L862.5 238.4L867.0 237.3L863.9 235.7L863.2 234.3L870.7 233.4L877.5 232.9L887.7 230.6L890.4 229.2L896.5 229.5L897.9 233.8L905.3 234.3L906.7 233.9L917.2 232.5L915.9 234.1L920.6 236.6L927.8 245.2L932.5 245.6L939.3 244.7L945.4 249.7L950.9 249.0L952.6 251.4M952.6 251.4L947.5 253.9L947.1 258.5L938.0 258.1L935.6 264.0L927.8 266.3L930.5 272.5L928.4 275.8M952.6 251.4L954.3 251.1L960.7 249.3L969.2 245.4L977.4 248.2L986.5 249.1L989.9 246.3L988.2 244.7L992.0 240.8L1003.2 243.7L1003.5 246.1L1014.0 246.7L1019.5 247.5L1024.9 250.7L1032.0 251.3L1039.9 249.7L1044.3 247.2L1052.4 248.8M954.3 251.1L954.9 253.2L961.7 255.7L965.1 260.3L964.8 264.9L973.6 266.1L980.1 268.4L983.5 273.9L995.7 274.4L1001.8 274.8L1012.7 277.9L1021.2 274.9L1027.3 274.9L1033.1 271.6L1036.3 270.3L1034.4 268.2L1036.5 265.6L1043.3 266.1L1050.1 263.5L1050.7 261.2L1054.8 260.3L1062.6 260.3L1063.3 259.2L1058.5 255.5L1056.2 255.3L1048.4 255.7L1050.1 252.5L1052.4 248.8M1052.4 248.8L1056.5 250.0L1061.3 247.7L1060.9 246.8L1066.4 240.5L1063.6 238.4L1066.7 236.6L1075.9 235.7L1083.7 238.4L1089.1 249.0L1095.9 250.4L1099.6 252.3L1100.7 256.4L1106.1 256.4L1113.7 254.1L1111.9 257.4L1108.1 265.6L1104.1 264.9L1101.0 266.5L1102.0 271.2L1099.6 275.1L1096.6 274.9L1090.8 276.5L1091.8 278.3L1087.1 277.2L1084.0 280.4L1078.4 283.8M1084.4 291.6L1086.4 290.8L1087.8 289.6L1092.0 288.5M1022.9 349.0L1019.5 347.8L1018.1 344.0L1013.7 342.6L1012.0 344.4L1009.1 345.5L1005.9 345.5L1003.0 345.8L1001.5 350.2L999.6 348.8L995.7 349.0L993.0 346.7L993.7 343.7L991.3 340.2L987.5 340.2L991.3 333.8L991.1 327.4L986.7 325.1L982.1 321.1L977.0 321.8L972.9 323.9L968.9 326.7L967.3 326.9L963.4 325.7L960.4 325.3L958.0 328.5L957.7 326.0L955.3 326.4L948.1 326.0L945.4 323.9L941.3 321.8L934.6 317.9L931.2 318.1L925.0 315.1L923.3 313.6L922.3 310.1L926.1 309.4L923.7 306.6L924.0 303.7L920.3 299.5L914.9 298.4L913.8 295.6L910.4 293.3M958.0 328.5L958.3 329.9L961.7 330.4L968.5 330.1L967.3 326.9M931.2 318.1L928.1 323.2L934.6 326.4L939.0 328.3L943.7 328.8L947.5 331.0L952.6 331.7L955.3 331.5L955.3 326.4M887.7 341.2L889.7 339.1L893.8 339.5L897.2 338.7L895.8 334.2L894.1 331.1L892.1 329.6L895.1 326.0L900.2 326.2L904.0 321.8L907.0 318.2L909.1 315.1L909.1 311.9L911.8 310.8L908.7 309.1L907.4 307.6M958.7 348.3L958.0 344.0L957.5 340.2L955.3 338.0L956.1 335.9L958.0 335.6L955.3 333.4L956.6 331.5L959.5 333.1L961.2 335.6L969.9 336.3L968.5 338.7L965.8 339.8L965.8 341.9L966.8 343.7L968.2 341.9L969.5 341.2L970.6 347.3L970.6 349.7L969.7 351.8M970.6 347.3L972.6 346.2L972.3 343.7L973.1 339.8L975.8 340.7L977.7 335.9L979.4 330.6L982.8 328.5L985.8 329.2L986.7 325.1M999.6 348.8L996.0 353.1L994.0 353.2L988.9 355.4L987.9 359.6L986.9 359.6L991.3 367.4L989.6 371.3L993.0 378.3L994.0 384.0L991.6 388.2L990.8 389.6M996.0 353.1L997.4 356.1L999.8 356.1L999.1 362.8L1002.8 360.7L1004.9 361.7L1007.2 360.0L1011.7 363.1L1012.0 367.0L1014.7 369.9L1013.4 374.4L1005.9 374.8L1003.7 376.9L1005.2 382.6L1005.6 383.8M1013.4 374.4L1016.1 374.3L1021.2 373.0M1003.0 345.8L1005.6 348.6L1008.9 351.5L1012.3 353.6L1009.3 356.4L1013.4 359.2L1017.8 365.3L1021.2 368.8L1021.2 373.0L1020.8 381.5L1016.1 383.5L1015.4 386.3L1010.8 388.2M996.0 402.2L998.8 404.5L999.4 405.0L1001.8 404.5L1002.8 402.9M1028.3 417.9L1028.5 419.3L1031.4 421.8L1035.8 421.5L1037.1 419.9L1042.2 420.6L1045.3 419.7L1047.0 415.1L1048.4 414.4L1048.7 410.2L1054.1 409.6L1056.5 410.3M1043.6 408.7L1046.0 409.8L1047.7 407.7M1135.0 434.2L1135.0 457.2M1080.5 456.6L1081.0 458.4" fill="none" stroke="#000" stroke-width=".6" stroke-linejoin="round"/>
<path d="M907.4 307.6L906.7 303.7L913.5 303.0L917.6 301.3L920.3 299.5M924.0 303.7L926.1 303.0L928.4 299.5L921.0 299.2M907.4 307.6L910.8 310.1L916.9 308.3L922.3 310.1M968.9 326.7L973.6 329.7L980.4 328.5L982.8 328.5" fill="none" stroke="#333" stroke-width=".5" stroke-dasharray="1.6 1.2"/>
</g>
<circle cx="257" cy="292.25" r="13.3" fill="rgba(255,88,88,.35)"/>
<circle cx="376.25" cy="328.75" r="13.3" fill="rgba(90,110,255,.38)"/>
<circle cx="400" cy="405.5" r="13.3" fill="rgba(90,110,255,.38)"/>
<circle cx="486.75" cy="489.25" r="13.3" fill="rgba(90,110,255,.38)"/>
<circle cx="660" cy="268.75" r="13.3" fill="rgba(255,88,88,.35)"/>
<circle cx="686.25" cy="387.25" r="13.3" fill="rgba(90,110,255,.38)"/>
<circle cx="788.75" cy="402.5" r="13.3" fill="rgba(255,88,88,.35)"/>
<circle cx="749.25" cy="524.25" r="13.3" fill="rgba(90,110,255,.38)"/>
<circle cx="875.5" cy="306.75" r="13.3" fill="rgba(90,110,255,.38)"/>
<circle cx="884.25" cy="329.25" r="13.3" fill="rgba(90,110,255,.38)"/>
<circle cx="909.5" cy="345.5" r="13.3" fill="rgba(90,110,255,.38)"/>
<circle cx="951.25" cy="336.75" r="13.3" fill="rgba(90,110,255,.38)"/>
<circle cx="1028.5" cy="321.9" r="13.3" fill="rgba(255,88,88,.35)"/>
<circle cx="1067.5" cy="389.75" r="13.3" fill="rgba(90,110,255,.38)"/>
<circle cx="1151.25" cy="530.5" r="13.3" fill="rgba(90,110,255,.38)"/>
<path d="M220 251.6L257 291.75M604.9 213.2L660 268.25M376.25 328.25L427.2 252M911 200.1L875.5 306.25M941.2 273.6L909.5 345M941.2 273.6L951.25 336.25M846 389L884.25 328.75M1028.5 321.4L1081.7 300.5M1067.5 389.25L1094.1 433.1M313.9 389L400 405M373.3 509.1L486.75 488.75M636.5 359.8L686.25 386.75M788.75 402L799.4 484.9M683.4 549L749.25 523.75M1124.8 573.2L1151.25 530" stroke="#444" stroke-width=".9" fill="none"/>
<circle cx="257" cy="292.25" r="8.3" fill="#a80000"/><circle cx="257" cy="292.25" r="6.1" fill="none" stroke="#e08080" stroke-width=".6"/>
<circle cx="376.25" cy="328.75" r="8.3" fill="#0000fa"/><circle cx="376.25" cy="328.75" r="6.1" fill="none" stroke="#9aa4ff" stroke-width=".6"/>
<circle cx="400" cy="405.5" r="8.3" fill="#0000fa"/><circle cx="400" cy="405.5" r="6.1" fill="none" stroke="#9aa4ff" stroke-width=".6"/>
<circle cx="486.75" cy="489.25" r="8.3" fill="#0000fa"/><circle cx="486.75" cy="489.25" r="6.1" fill="none" stroke="#9aa4ff" stroke-width=".6"/>
<circle cx="660" cy="268.75" r="8.3" fill="#a80000"/><circle cx="660" cy="268.75" r="6.1" fill="none" stroke="#e08080" stroke-width=".6"/>
<circle cx="686.25" cy="387.25" r="8.3" fill="#0000fa"/><circle cx="686.25" cy="387.25" r="6.1" fill="none" stroke="#9aa4ff" stroke-width=".6"/>
<circle cx="788.75" cy="402.5" r="8.3" fill="#a80000"/><circle cx="788.75" cy="402.5" r="6.1" fill="none" stroke="#e08080" stroke-width=".6"/>
<circle cx="749.25" cy="524.25" r="8.3" fill="#0000fa"/><circle cx="749.25" cy="524.25" r="6.1" fill="none" stroke="#9aa4ff" stroke-width=".6"/>
<circle cx="875.5" cy="306.75" r="8.3" fill="#0000fa"/><circle cx="875.5" cy="306.75" r="6.1" fill="none" stroke="#9aa4ff" stroke-width=".6"/>
<circle cx="884.25" cy="329.25" r="8.3" fill="#0000fa"/><circle cx="884.25" cy="329.25" r="6.1" fill="none" stroke="#9aa4ff" stroke-width=".6"/>
<circle cx="909.5" cy="345.5" r="8.3" fill="#0000fa"/><circle cx="909.5" cy="345.5" r="6.1" fill="none" stroke="#9aa4ff" stroke-width=".6"/>
<circle cx="951.25" cy="336.75" r="8.3" fill="#0000fa"/><circle cx="951.25" cy="336.75" r="6.1" fill="none" stroke="#9aa4ff" stroke-width=".6"/>
<circle cx="1028.5" cy="321.9" r="8.3" fill="#a80000"/><circle cx="1028.5" cy="321.9" r="6.1" fill="none" stroke="#e08080" stroke-width=".6"/>
<circle cx="1067.5" cy="389.75" r="8.3" fill="#0000fa"/><circle cx="1067.5" cy="389.75" r="6.1" fill="none" stroke="#9aa4ff" stroke-width=".6"/>
<circle cx="1151.25" cy="530.5" r="8.3" fill="#0000fa"/><circle cx="1151.25" cy="530.5" r="6.1" fill="none" stroke="#9aa4ff" stroke-width=".6"/>
<circle cx="70" cy="609.2" r="20" fill="rgba(255,80,80,.2)"/><circle cx="70" cy="609.7" r="12.6" fill="#a80000"/><circle cx="70" cy="609.7" r="8.2" fill="none" stroke="#e08080" stroke-width=".6"/>
<circle cx="198.8" cy="607.6" r="20" fill="rgba(80,110,255,.3)"/><circle cx="198.8" cy="608.1" r="12.6" fill="#0000fa"/><circle cx="198.8" cy="608.1" r="8.2" fill="none" stroke="#9aa4ff" stroke-width=".6"/>
<rect x="45.5" y="113.5" width="1221" height="524" fill="none" stroke="#262626" stroke-width="1.3"/>
</svg>
<div class="hd" style="left:50.90px;top:237.80px;width:169.10px;height:13.80px;font-size:12.39px;line-height:13.80px"><span style="position:relative;left:2.90px;top:1.21px">WESTERN/CENTRAL USA</span></div>
<div class="bd" style="left:50.20px;top:255.00px;width:169.80px;height:44.00px;font-size:12.34px;line-height:13.85px"><div style="position:absolute;left:1.30px;top:1.50px">Persistent drought caused 22<br>Bln USD damage and 136<br>casualties in 2022</div></div>
<div class="hd" style="left:419.70px;top:140.30px;width:185.20px;height:12.50px;font-size:12.44px;line-height:12.50px"><span style="position:relative;left:0.70px;top:0.44px">WESTERN EUROPE</span></div>
<div class="bd" style="left:419.70px;top:154.70px;width:185.20px;height:58.50px;font-size:12.25px;line-height:14.07px"><div style="position:absolute;left:1.70px;top:0.62px">Record-breaking heatwave in<br>Germany, UK, France, Portugal<br>and Spain. In July river Po<br>reached historical minimum level</div></div>
<div class="hd" style="left:427.20px;top:252.00px;width:170.60px;height:13.80px;font-size:12.46px;line-height:13.80px"><span style="position:relative;left:0.95px;top:1.08px">FLORIDA, USA</span></div>
<div class="bd" style="left:427.20px;top:268.10px;width:170.60px;height:45.20px;font-size:12.38px;line-height:13.82px"><div style="position:absolute;left:1.90px;top:-0.10px">Hurricane Ian and associated<br>flooding caused 152 deaths,<br>113 Bln USD damage</div></div>
<div class="hd" style="left:768.70px;top:187.10px;width:142.30px;height:13.00px;font-size:12.40px;line-height:13.00px"><span style="position:relative;left:0.60px;top:0.30px">AFGHANISTAN</span></div>
<div class="bd" style="left:767.90px;top:138.00px;width:142.70px;height:46.20px;font-size:12.40px;line-height:14.40px"><div style="position:absolute;left:2.60px;top:1.70px">July-August floods: 156<br>casualties, ~250k people<br>affected</div></div>
<div class="hd" style="left:941.20px;top:261.30px;width:185.40px;height:12.30px;font-size:12.56px;line-height:12.30px"><span style="position:relative;left:4.60px;top:-0.00px">INDIA and BANGLAGESH</span></div>
<div class="bd" style="left:941.20px;top:195.20px;width:185.40px;height:63.60px;font-size:12.37px;line-height:14.67px"><div style="position:absolute;left:2.50px;top:2.08px">In India floods/lightning led to<br>&gt;700 casualties, 1.3 Mio of<br>people evacuated. In Bagladesh<br>flood affected 7 Mio of people</div></div>
<div class="hd" style="left:131.10px;top:389.00px;width:182.80px;height:14.10px;font-size:12.34px;line-height:14.10px"><span style="position:relative;left:3.10px;top:1.12px">COLOMBIA</span></div>
<div class="bd" style="left:131.10px;top:405.75px;width:182.80px;height:43.45px;font-size:12.33px;line-height:14.07px"><div style="position:absolute;left:1.10px;top:1.14px">Extended "La Niña" led to flood<br>in Magdalena River Basin,<br>causing 53 casualties</div></div>
<div class="hd" style="left:477.80px;top:359.80px;width:158.70px;height:14.00px;font-size:12.27px;line-height:14.00px"><span style="position:relative;left:3.60px;top:0.65px">SAHEL</span></div>
<div class="bd" style="left:477.80px;top:375.60px;width:158.30px;height:57.00px;font-size:12.38px;line-height:14.00px"><div style="position:absolute;left:1.30px;top:-0.09px">Floods affected 3.4 Mio<br>people, 1.4 Mio were<br>displaced, &gt; 600 casualties<br>in Nigeria and 159 in Niger</div></div>
<div class="hd" style="left:846.00px;top:389.00px;width:149.80px;height:12.60px;font-size:12.39px;line-height:12.60px"><span style="position:relative;left:2.30px;top:0.71px">PAKISTAN</span></div>
<div class="bd" style="left:846.00px;top:403.20px;width:149.80px;height:57.50px;font-size:12.25px;line-height:13.93px"><div style="position:absolute;left:1.30px;top:1.59px">May- September floods<br>affected 33 Mio of people,<br>&gt;1700 casualties, up to 30<br>Bln USD damage</div></div>
<div class="hd" style="left:1081.70px;top:299.20px;width:171.40px;height:14.10px;font-size:12.32px;line-height:14.10px"><span style="position:relative;left:1.90px;top:0.58px">CHINA</span></div>
<div class="bd" style="left:1081.70px;top:315.60px;width:171.40px;height:71.20px;font-size:12.27px;line-height:14.21px"><div style="position:absolute;left:1.20px;top:0.04px">Prolonged extreme heat<br>caused worst drought in<br>decades in the Yangtze River<br>Basin. Almost 5 Mio people<br>affected</div></div>
<div class="hd" style="left:1094.10px;top:433.10px;width:129.20px;height:13.20px;font-size:12.53px;line-height:13.20px"><span style="position:relative;left:2.00px;top:0.46px">PHILIPPINES</span></div>
<div class="bd" style="left:1093.80px;top:448.70px;width:129.70px;height:44.20px;font-size:12.22px;line-height:14.30px"><div style="position:absolute;left:1.30px;top:0.12px"> Megi and Nalgae<br>tropical storms caused<br>200 and 150 deaths</div></div>
<div class="hd" style="left:243.00px;top:509.10px;width:130.30px;height:13.80px;font-size:12.30px;line-height:13.80px"><span style="position:relative;left:4.10px;top:0.74px">BRAZIL</span></div>
<div class="bd" style="left:242.40px;top:525.30px;width:130.90px;height:47.70px;font-size:12.38px;line-height:14.55px"><div style="position:absolute;left:3.40px;top:3.04px">Heavy rainfall and<br>landslides caused 230<br>deaths</div></div>
<div class="hd" style="left:529.90px;top:549.00px;width:153.50px;height:13.90px;font-size:12.45px;line-height:13.90px"><span style="position:relative;left:3.80px;top:0.74px">SOUTH AFRICA</span></div>
<div class="bd" style="left:529.90px;top:565.30px;width:153.70px;height:58.45px;font-size:12.39px;line-height:14.50px"><div style="position:absolute;left:1.00px;top:-1.34px">300 mm of rainfall on 12th<br>April caused flood with 448<br>casualties and 40k people<br>displaced</div></div>
<div class="hd" style="left:799.40px;top:484.90px;width:192.40px;height:12.50px;font-size:12.59px;line-height:12.50px"><span style="position:relative;left:0.50px;top:-0.11px">HORN of AFRICA</span></div>
<div class="bd" style="left:799.40px;top:500.10px;width:192.40px;height:58.30px;font-size:12.26px;line-height:14.10px"><div style="position:absolute;left:2.60px;top:0.00px">Persistent drought conditions<br>continiued in 2022. 36 Mio people<br>affected, 21 Mio of people facing<br>food insecurity</div></div>
<div class="hd" style="left:965.10px;top:573.20px;width:159.70px;height:14.30px;font-size:12.31px;line-height:14.30px"><span style="position:relative;left:3.20px;top:0.59px">AUSTRALIA</span></div>
<div class="bd" style="left:965.10px;top:589.60px;width:159.70px;height:44.10px;font-size:12.22px;line-height:13.95px"><div style="position:absolute;left:1.10px;top:2.09px">Multiple floods in 2022, most<br>severe in late February and<br>early March</div></div>
<div class="lg" style="left:97.3px;top:602.5px">Drought</div>
<div class="lg" style="left:227.8px;top:602px">Flood/Heavy rainfall</div>
<div class="lg" id="src" style="left:587px;top:651px;font-size:12.62px">Sources: WMO Global State of the Climate Report 2022, EM-DAT, 2023; World Bank; ReliefWeb and others</div>
<div style="position:absolute;left:1194px;top:679px;font-size:11px;color:#8a8a8a;font-family:'Liberation Sans',sans-serif;transform:scaleX(.9);transform-origin:0 0">15</div>
<div class="bar" style="top:540px;height:27px;background:#10a3cf"></div>
<div class="bar" style="top:566.7px;height:27px;background:#72b443"></div>
<div class="bar" style="top:593px;height:27px;background:#f8a50d"></div>
<div class="bar" style="top:619.4px;height:101px;background:#0b55a6"></div>
<svg width="110" height="70" viewBox="0 640 110 70" style="position:absolute;left:0;top:640px">
<g fill="#2f6fbe"><ellipse cx="44.32" cy="700.24" rx="3.0" ry="1.25" transform="rotate(156.0 44.32 700.24)"/><ellipse cx="45.58" cy="697.26" rx="2.3" ry="1.05" transform="rotate(230.0 45.58 697.26)"/><ellipse cx="39.64" cy="697.83" rx="3.0" ry="1.25" transform="rotate(170.0 39.64 697.83)"/><ellipse cx="41.59" cy="695.24" rx="2.3" ry="1.05" transform="rotate(244.0 41.59 695.24)"/><ellipse cx="35.69" cy="694.36" rx="3.0" ry="1.25" transform="rotate(184.0 35.69 694.36)"/><ellipse cx="38.21" cy="692.32" rx="2.3" ry="1.05" transform="rotate(258.0 38.21 692.32)"/><ellipse cx="32.70" cy="690.03" rx="3.0" ry="1.25" transform="rotate(198.0 32.70 690.03)"/><ellipse cx="35.63" cy="688.66" rx="2.3" ry="1.05" transform="rotate(272.0 35.63 688.66)"/><ellipse cx="30.84" cy="685.11" rx="3.0" ry="1.25" transform="rotate(212.0 30.84 685.11)"/><ellipse cx="34.02" cy="684.49" rx="2.3" ry="1.05" transform="rotate(286.0 34.02 684.49)"/><ellipse cx="30.22" cy="679.89" rx="3.0" ry="1.25" transform="rotate(226.0 30.22 679.89)"/><ellipse cx="33.46" cy="680.06" rx="2.3" ry="1.05" transform="rotate(300.0 33.46 680.06)"/><ellipse cx="30.89" cy="674.67" rx="3.0" ry="1.25" transform="rotate(240.0 30.89 674.67)"/><ellipse cx="33.99" cy="675.62" rx="2.3" ry="1.05" transform="rotate(314.0 33.99 675.62)"/><ellipse cx="32.80" cy="669.77" rx="3.0" ry="1.25" transform="rotate(254.0 32.80 669.77)"/><ellipse cx="35.58" cy="671.44" rx="2.3" ry="1.05" transform="rotate(328.0 35.58 671.44)"/><ellipse cx="35.84" cy="665.48" rx="3.0" ry="1.25" transform="rotate(268.0 35.84 665.48)"/><ellipse cx="38.13" cy="667.77" rx="2.3" ry="1.05" transform="rotate(342.0 38.13 667.77)"/><ellipse cx="39.51" cy="662.26" rx="3.0" ry="1.25" transform="rotate(281.0 39.51 662.26)"/><ellipse cx="43.10" cy="661.96" rx="2.6" ry="1.1" transform="rotate(320.0 43.10 661.96)"/><ellipse cx="59.28" cy="700.24" rx="3.0" ry="1.25" transform="rotate(24.0 59.28 700.24)"/><ellipse cx="58.02" cy="697.26" rx="2.3" ry="1.05" transform="rotate(-50.0 58.02 697.26)"/><ellipse cx="63.96" cy="697.83" rx="3.0" ry="1.25" transform="rotate(10.0 63.96 697.83)"/><ellipse cx="62.01" cy="695.24" rx="2.3" ry="1.05" transform="rotate(-64.0 62.01 695.24)"/><ellipse cx="67.91" cy="694.36" rx="3.0" ry="1.25" transform="rotate(-4.0 67.91 694.36)"/><ellipse cx="65.39" cy="692.32" rx="2.3" ry="1.05" transform="rotate(-78.0 65.39 692.32)"/><ellipse cx="70.90" cy="690.03" rx="3.0" ry="1.25" transform="rotate(-18.0 70.90 690.03)"/><ellipse cx="67.97" cy="688.66" rx="2.3" ry="1.05" transform="rotate(-92.0 67.97 688.66)"/><ellipse cx="72.76" cy="685.11" rx="3.0" ry="1.25" transform="rotate(-32.0 72.76 685.11)"/><ellipse cx="69.58" cy="684.49" rx="2.3" ry="1.05" transform="rotate(-106.0 69.58 684.49)"/><ellipse cx="73.38" cy="679.89" rx="3.0" ry="1.25" transform="rotate(-46.0 73.38 679.89)"/><ellipse cx="70.14" cy="680.06" rx="2.3" ry="1.05" transform="rotate(-120.0 70.14 680.06)"/><ellipse cx="72.71" cy="674.67" rx="3.0" ry="1.25" transform="rotate(-60.0 72.71 674.67)"/><ellipse cx="69.61" cy="675.62" rx="2.3" ry="1.05" transform="rotate(-134.0 69.61 675.62)"/><ellipse cx="70.80" cy="669.77" rx="3.0" ry="1.25" transform="rotate(-74.0 70.80 669.77)"/><ellipse cx="68.02" cy="671.44" rx="2.3" ry="1.05" transform="rotate(-148.0 68.02 671.44)"/><ellipse cx="67.76" cy="665.48" rx="3.0" ry="1.25" transform="rotate(-88.0 67.76 665.48)"/><ellipse cx="65.47" cy="667.77" rx="2.3" ry="1.05" transform="rotate(-162.0 65.47 667.77)"/><ellipse cx="64.09" cy="662.26" rx="3.0" ry="1.25" transform="rotate(-101.0 64.09 662.26)"/><ellipse cx="60.50" cy="661.96" rx="2.6" ry="1.1" transform="rotate(-140.0 60.50 661.96)"/></g>
<path d="M40.3 663.8A19.6 19.6 0 0 0 45 698.4M63.3 663.8A19.6 19.6 0 0 1 58.6 698.4" stroke="#2f6fbe" stroke-width=".7" fill="none"/>
<path d="M40 695.6Q47 700.6 57.8 701.4M63.6 695.6Q56.6 700.6 45.8 701.4" stroke="#2f6fbe" stroke-width="1.2" fill="none" stroke-linecap="round"/>
<circle cx="51.8" cy="680.0" r="15.2" fill="#fff" stroke="#2f6fbe" stroke-width=".9"/>
<g fill="none" stroke="#8db4e2" stroke-width=".55"><circle cx="51.8" cy="680.0" r="5.2"/><circle cx="51.8" cy="680.0" r="10.4"/>
<path d="M36.60 680.00L67.00 680.00M41.05 669.25L62.55 690.75M51.80 664.80L51.80 695.20M62.55 669.25L41.05 690.75"/></g>
<g fill="#1d57a8">
<path d="M44.5 673.2l3.2-1.2 2.8.6 1.2 2.6-.6 2.6-2.2 1.2-.6 2.4-2.2.4-1.4-2.2-2.4-.2-.6-2.6 1.4-1.8z"/>
<path d="M53.6 672.6l3.6-.9 3.4 1.1 1.8 2.5-.2 2.7-2.2.7-1.1 2.4-2.7.4-1.1-2.2-2-1.1.2-2.9z"/>
<path d="M39.8 680.4l2.6.6 1.4 2.2-.4 2.8-2 1.6-2.2-1-1-2.6z"/>
<path d="M52.2 683.2l2.8-.8 2.8 1.2 1.4 2.8-1 3.2-2.6 2-2.4-1.4-1.2-3 .2-2.4z"/>
<path d="M60.6 681.4l2.2.4.8 2-1.2 1.8-2-.4-.6-2z"/>
<path d="M58.8 668.4l2.6 1.6 1.6 2.4-1.6.2-2.4-2.2zM64 673.8l1.4 2.6-.2 1.8-1.4-1.8z"/>
</g>
<path d="M51.80 649.30L52.76 657.99L56.04 656.06L54.11 659.34L63.40 660.30L54.11 661.26L56.04 664.54L52.76 662.61L51.80 671.30L50.84 662.61L47.56 664.54L49.49 661.26L40.20 660.30L49.49 659.34L47.56 656.06L50.84 657.99Z" fill="#f2b92e" stroke="#e0a21a" stroke-width=".35" stroke-linejoin="round"/>
<path d="M51.8 652.3L53.3 660.3L51.8 668.3L50.3 660.3Z" fill="#fbe18c"/>
</svg>
<div style="position:absolute;left:86px;top:666.6px;font-family:'Liberation Sans',sans-serif;font-size:21.6px;line-height:25px;color:#1b4f95;letter-spacing:1.45px;white-space:nowrap;-webkit-text-stroke:.45px #1b4f95">WMO OMM</div>
</body></html>
